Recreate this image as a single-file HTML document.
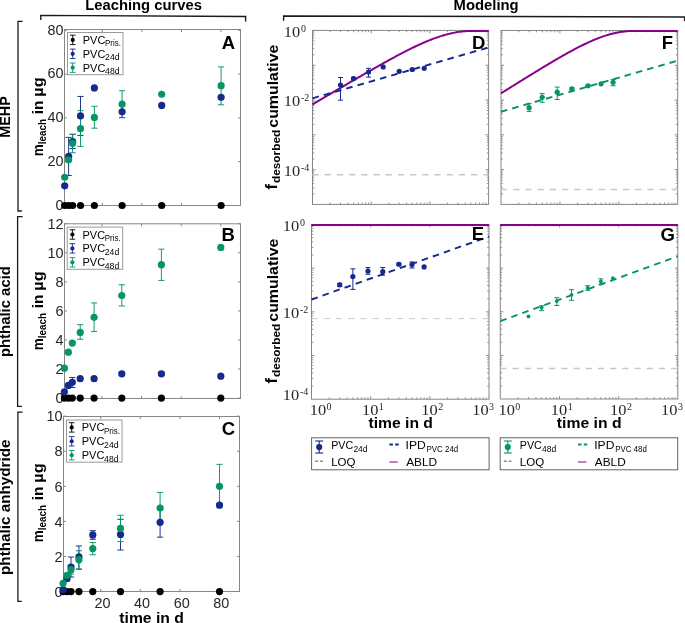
<!DOCTYPE html>
<html><head><meta charset="utf-8"><style>
html,body{margin:0;padding:0;background:#fff;}
svg{display:block;font-family:"Liberation Sans", sans-serif;will-change:transform;opacity:0.999;}
</style></head><body>
<svg width="685" height="623" viewBox="0 0 685 623">
<rect width="685" height="623" fill="#fff"/>
<text x="85.2" y="9.8" font-size="14" fill="#000" font-weight="bold" textLength="116.8" lengthAdjust="spacingAndGlyphs">Leaching curves</text>
<text x="453.6" y="9.9" font-size="14" fill="#000" font-weight="bold" textLength="65" lengthAdjust="spacingAndGlyphs">Modeling</text>
<path d="M40.8,20 V15.4 L245.6,16.5 V21.6" fill="none" stroke="#1a1a1a" stroke-width="1.4"/>
<path d="M283.6,20.8 V16 L684.6,17 V21" fill="none" stroke="#1a1a1a" stroke-width="1.4"/>
<path d="M22.6,21.4 H18 V211 H21.8" fill="none" stroke="#1a1a1a" stroke-width="1.3"/>
<path d="M22.6,216.6 H17.6 V406.4 H21.9" fill="none" stroke="#1a1a1a" stroke-width="1.3"/>
<path d="M22.6,412.2 H17.9 V601.3 H21.8" fill="none" stroke="#1a1a1a" stroke-width="1.3"/>
<text transform="translate(9.8,117) rotate(-90)" x="0" y="0" font-size="13.8" fill="#000" text-anchor="middle" font-weight="bold" textLength="41.5" lengthAdjust="spacingAndGlyphs">MEHP</text>
<text transform="translate(10,311.6) rotate(-90)" x="0" y="0" font-size="13.8" fill="#000" text-anchor="middle" font-weight="bold" textLength="91" lengthAdjust="spacingAndGlyphs">phthalic acid</text>
<text transform="translate(10,507.2) rotate(-90)" x="0" y="0" font-size="13.8" fill="#000" text-anchor="middle" font-weight="bold" textLength="135.5" lengthAdjust="spacingAndGlyphs">phthalic anhydride</text>
<line x1="64.5" y1="205.5" x2="67" y2="205.5" stroke="#858585" stroke-width="1"/>
<line x1="240.5" y1="205.5" x2="238" y2="205.5" stroke="#858585" stroke-width="1"/>
<text x="63.5" y="209.7" font-size="14.4" fill="#262626" text-anchor="end">0</text>
<line x1="64.5" y1="161.7" x2="67" y2="161.7" stroke="#858585" stroke-width="1"/>
<line x1="240.5" y1="161.7" x2="238" y2="161.7" stroke="#858585" stroke-width="1"/>
<text x="63.5" y="165.9" font-size="14.4" fill="#262626" text-anchor="end">20</text>
<line x1="64.5" y1="117.9" x2="67" y2="117.9" stroke="#858585" stroke-width="1"/>
<line x1="240.5" y1="117.9" x2="238" y2="117.9" stroke="#858585" stroke-width="1"/>
<text x="63.5" y="122.1" font-size="14.4" fill="#262626" text-anchor="end">40</text>
<line x1="64.5" y1="74.1" x2="67" y2="74.1" stroke="#858585" stroke-width="1"/>
<line x1="240.5" y1="74.1" x2="238" y2="74.1" stroke="#858585" stroke-width="1"/>
<text x="63.5" y="78.3" font-size="14.4" fill="#262626" text-anchor="end">60</text>
<line x1="64.5" y1="30.3" x2="67" y2="30.3" stroke="#858585" stroke-width="1"/>
<line x1="240.5" y1="30.3" x2="238" y2="30.3" stroke="#858585" stroke-width="1"/>
<text x="63.5" y="34.5" font-size="14.4" fill="#262626" text-anchor="end">80</text>
<line x1="102.3" y1="205.5" x2="102.3" y2="203" stroke="#858585" stroke-width="1"/>
<line x1="102.3" y1="29.5" x2="102.3" y2="32" stroke="#858585" stroke-width="1"/>
<line x1="141.9" y1="205.5" x2="141.9" y2="203" stroke="#858585" stroke-width="1"/>
<line x1="141.9" y1="29.5" x2="141.9" y2="32" stroke="#858585" stroke-width="1"/>
<line x1="181.5" y1="205.5" x2="181.5" y2="203" stroke="#858585" stroke-width="1"/>
<line x1="181.5" y1="29.5" x2="181.5" y2="32" stroke="#858585" stroke-width="1"/>
<line x1="221.1" y1="205.5" x2="221.1" y2="203" stroke="#858585" stroke-width="1"/>
<line x1="221.1" y1="29.5" x2="221.1" y2="32" stroke="#858585" stroke-width="1"/>
<rect x="64.5" y="29.5" width="176" height="176" fill="none" stroke="#858585" stroke-width="1"/>
<circle cx="64.68" cy="205.5" r="3.6" fill="#000000"/>
<circle cx="68.64" cy="205.5" r="3.6" fill="#000000"/>
<circle cx="72.6" cy="205.5" r="3.6" fill="#000000"/>
<circle cx="80.52" cy="205.5" r="3.6" fill="#000000"/>
<circle cx="94.38" cy="205.5" r="3.6" fill="#000000"/>
<circle cx="122.1" cy="205.5" r="3.6" fill="#000000"/>
<circle cx="161.7" cy="205.5" r="3.6" fill="#000000"/>
<circle cx="221.1" cy="205.5" r="3.6" fill="#000000"/>
<line x1="68.64" y1="137.39" x2="68.64" y2="175.5" stroke="#16298c" stroke-width="0.95"/>
<line x1="65.54" y1="137.39" x2="71.74" y2="137.39" stroke="#16298c" stroke-width="0.95"/>
<line x1="65.54" y1="175.5" x2="71.74" y2="175.5" stroke="#16298c" stroke-width="0.95"/>
<line x1="72.6" y1="134.32" x2="72.6" y2="148.56" stroke="#16298c" stroke-width="0.95"/>
<line x1="69.5" y1="134.32" x2="75.7" y2="134.32" stroke="#16298c" stroke-width="0.95"/>
<line x1="69.5" y1="148.56" x2="75.7" y2="148.56" stroke="#16298c" stroke-width="0.95"/>
<line x1="80.52" y1="96.44" x2="80.52" y2="135.42" stroke="#16298c" stroke-width="0.95"/>
<line x1="77.42" y1="96.44" x2="83.62" y2="96.44" stroke="#16298c" stroke-width="0.95"/>
<line x1="77.42" y1="135.42" x2="83.62" y2="135.42" stroke="#16298c" stroke-width="0.95"/>
<line x1="122.1" y1="105.86" x2="122.1" y2="117.68" stroke="#16298c" stroke-width="0.95"/>
<line x1="119" y1="105.86" x2="125.2" y2="105.86" stroke="#16298c" stroke-width="0.95"/>
<line x1="119" y1="117.68" x2="125.2" y2="117.68" stroke="#16298c" stroke-width="0.95"/>
<line x1="72.6" y1="134.32" x2="72.6" y2="152.72" stroke="#069664" stroke-width="0.95"/>
<line x1="69.5" y1="134.32" x2="75.7" y2="134.32" stroke="#069664" stroke-width="0.95"/>
<line x1="69.5" y1="152.72" x2="75.7" y2="152.72" stroke="#069664" stroke-width="0.95"/>
<line x1="80.52" y1="110.67" x2="80.52" y2="146.37" stroke="#069664" stroke-width="0.95"/>
<line x1="77.42" y1="110.67" x2="83.62" y2="110.67" stroke="#069664" stroke-width="0.95"/>
<line x1="77.42" y1="146.37" x2="83.62" y2="146.37" stroke="#069664" stroke-width="0.95"/>
<line x1="94.38" y1="106.29" x2="94.38" y2="128.19" stroke="#069664" stroke-width="0.95"/>
<line x1="91.28" y1="106.29" x2="97.48" y2="106.29" stroke="#069664" stroke-width="0.95"/>
<line x1="91.28" y1="128.19" x2="97.48" y2="128.19" stroke="#069664" stroke-width="0.95"/>
<line x1="122.1" y1="90.74" x2="122.1" y2="117.46" stroke="#069664" stroke-width="0.95"/>
<line x1="119" y1="90.74" x2="125.2" y2="90.74" stroke="#069664" stroke-width="0.95"/>
<line x1="119" y1="117.46" x2="125.2" y2="117.46" stroke="#069664" stroke-width="0.95"/>
<line x1="221.1" y1="66.87" x2="221.1" y2="104.76" stroke="#069664" stroke-width="0.95"/>
<line x1="218" y1="66.87" x2="224.2" y2="66.87" stroke="#069664" stroke-width="0.95"/>
<line x1="218" y1="104.76" x2="224.2" y2="104.76" stroke="#069664" stroke-width="0.95"/>
<circle cx="64.68" cy="185.79" r="3.6" fill="#16298c"/>
<circle cx="68.64" cy="156.44" r="3.6" fill="#16298c"/>
<circle cx="72.6" cy="141.55" r="3.6" fill="#16298c"/>
<circle cx="80.52" cy="115.93" r="3.6" fill="#16298c"/>
<circle cx="94.38" cy="87.9" r="3.6" fill="#16298c"/>
<circle cx="122.1" cy="111.77" r="3.6" fill="#16298c"/>
<circle cx="161.7" cy="105.42" r="3.6" fill="#16298c"/>
<circle cx="221.1" cy="97.31" r="3.6" fill="#16298c"/>
<circle cx="64.68" cy="177.25" r="3.6" fill="#069664"/>
<circle cx="68.64" cy="159.73" r="3.6" fill="#069664"/>
<circle cx="72.6" cy="143.3" r="3.6" fill="#069664"/>
<circle cx="80.52" cy="128.63" r="3.6" fill="#069664"/>
<circle cx="94.38" cy="117.46" r="3.6" fill="#069664"/>
<circle cx="122.1" cy="104.1" r="3.6" fill="#069664"/>
<circle cx="161.7" cy="94.25" r="3.6" fill="#069664"/>
<circle cx="221.1" cy="85.71" r="3.6" fill="#069664"/>
<rect x="67.5" y="32.5" width="55.5" height="42.2" fill="#fff" stroke="#9a9a9a" stroke-width="1"/>
<line x1="72.7" y1="35.2" x2="72.7" y2="44.6" stroke="#000000" stroke-width="0.9"/>
<line x1="69.9" y1="35.2" x2="75.5" y2="35.2" stroke="#000000" stroke-width="0.9"/>
<line x1="69.9" y1="44.6" x2="75.5" y2="44.6" stroke="#000000" stroke-width="0.9"/>
<circle cx="72.7" cy="39.9" r="2.1" fill="#000000"/>
<text x="82.8" y="43.9" font-size="11.5" fill="#000" textLength="22.6" lengthAdjust="spacingAndGlyphs">PVC</text>
<text x="105.1" y="46.2" font-size="8.6" fill="#000" textLength="15.8" lengthAdjust="spacingAndGlyphs">Pris.</text>
<line x1="72.7" y1="49.1" x2="72.7" y2="58.5" stroke="#16298c" stroke-width="0.9"/>
<line x1="69.9" y1="49.1" x2="75.5" y2="49.1" stroke="#16298c" stroke-width="0.9"/>
<line x1="69.9" y1="58.5" x2="75.5" y2="58.5" stroke="#16298c" stroke-width="0.9"/>
<circle cx="72.7" cy="53.8" r="2.1" fill="#16298c"/>
<text x="82.8" y="57.8" font-size="11.5" fill="#000" textLength="22.6" lengthAdjust="spacingAndGlyphs">PVC</text>
<text x="105.1" y="60.1" font-size="8.6" fill="#000" textLength="14.4" lengthAdjust="spacingAndGlyphs">24d</text>
<line x1="72.7" y1="63" x2="72.7" y2="72.4" stroke="#069664" stroke-width="0.9"/>
<line x1="69.9" y1="63" x2="75.5" y2="63" stroke="#069664" stroke-width="0.9"/>
<line x1="69.9" y1="72.4" x2="75.5" y2="72.4" stroke="#069664" stroke-width="0.9"/>
<circle cx="72.7" cy="67.7" r="2.1" fill="#069664"/>
<text x="82.8" y="71.7" font-size="11.5" fill="#000" textLength="22.6" lengthAdjust="spacingAndGlyphs">PVC</text>
<text x="105.1" y="74" font-size="8.6" fill="#000" textLength="14.4" lengthAdjust="spacingAndGlyphs">48d</text>
<text x="221.7" y="49" font-size="18.5" fill="#000" font-weight="bold">A</text>
<line x1="64.5" y1="398.1" x2="67" y2="398.1" stroke="#858585" stroke-width="1"/>
<line x1="240.5" y1="398.1" x2="238" y2="398.1" stroke="#858585" stroke-width="1"/>
<text x="63.5" y="403.3" font-size="14.4" fill="#262626" text-anchor="end">0</text>
<line x1="64.5" y1="369.04" x2="67" y2="369.04" stroke="#858585" stroke-width="1"/>
<line x1="240.5" y1="369.04" x2="238" y2="369.04" stroke="#858585" stroke-width="1"/>
<text x="63.5" y="374.24" font-size="14.4" fill="#262626" text-anchor="end">2</text>
<line x1="64.5" y1="339.98" x2="67" y2="339.98" stroke="#858585" stroke-width="1"/>
<line x1="240.5" y1="339.98" x2="238" y2="339.98" stroke="#858585" stroke-width="1"/>
<text x="63.5" y="345.18" font-size="14.4" fill="#262626" text-anchor="end">4</text>
<line x1="64.5" y1="310.92" x2="67" y2="310.92" stroke="#858585" stroke-width="1"/>
<line x1="240.5" y1="310.92" x2="238" y2="310.92" stroke="#858585" stroke-width="1"/>
<text x="63.5" y="316.12" font-size="14.4" fill="#262626" text-anchor="end">6</text>
<line x1="64.5" y1="281.86" x2="67" y2="281.86" stroke="#858585" stroke-width="1"/>
<line x1="240.5" y1="281.86" x2="238" y2="281.86" stroke="#858585" stroke-width="1"/>
<text x="63.5" y="287.06" font-size="14.4" fill="#262626" text-anchor="end">8</text>
<line x1="64.5" y1="252.8" x2="67" y2="252.8" stroke="#858585" stroke-width="1"/>
<line x1="240.5" y1="252.8" x2="238" y2="252.8" stroke="#858585" stroke-width="1"/>
<text x="63.5" y="258" font-size="14.4" fill="#262626" text-anchor="end">10</text>
<line x1="64.5" y1="223.74" x2="67" y2="223.74" stroke="#858585" stroke-width="1"/>
<line x1="240.5" y1="223.74" x2="238" y2="223.74" stroke="#858585" stroke-width="1"/>
<text x="63.5" y="228.94" font-size="14.4" fill="#262626" text-anchor="end">12</text>
<line x1="102" y1="398.5" x2="102" y2="396" stroke="#858585" stroke-width="1"/>
<line x1="102" y1="223.8" x2="102" y2="226.3" stroke="#858585" stroke-width="1"/>
<line x1="141.6" y1="398.5" x2="141.6" y2="396" stroke="#858585" stroke-width="1"/>
<line x1="141.6" y1="223.8" x2="141.6" y2="226.3" stroke="#858585" stroke-width="1"/>
<line x1="181.2" y1="398.5" x2="181.2" y2="396" stroke="#858585" stroke-width="1"/>
<line x1="181.2" y1="223.8" x2="181.2" y2="226.3" stroke="#858585" stroke-width="1"/>
<line x1="220.8" y1="398.5" x2="220.8" y2="396" stroke="#858585" stroke-width="1"/>
<line x1="220.8" y1="223.8" x2="220.8" y2="226.3" stroke="#858585" stroke-width="1"/>
<rect x="64.5" y="223.8" width="176" height="174.7" fill="none" stroke="#858585" stroke-width="1"/>
<circle cx="64.38" cy="398.1" r="3.6" fill="#000000"/>
<circle cx="68.34" cy="398.1" r="3.6" fill="#000000"/>
<circle cx="72.3" cy="398.1" r="3.6" fill="#000000"/>
<circle cx="80.22" cy="398.1" r="3.6" fill="#000000"/>
<circle cx="94.08" cy="398.1" r="3.6" fill="#000000"/>
<circle cx="121.8" cy="398.1" r="3.6" fill="#000000"/>
<circle cx="161.4" cy="398.1" r="3.6" fill="#000000"/>
<circle cx="220.8" cy="398.1" r="3.6" fill="#000000"/>
<line x1="72.3" y1="377.47" x2="72.3" y2="387.49" stroke="#16298c" stroke-width="0.95"/>
<line x1="69.2" y1="377.47" x2="75.4" y2="377.47" stroke="#16298c" stroke-width="0.95"/>
<line x1="69.2" y1="387.49" x2="75.4" y2="387.49" stroke="#16298c" stroke-width="0.95"/>
<line x1="121.8" y1="371.95" x2="121.8" y2="375.58" stroke="#16298c" stroke-width="0.95"/>
<line x1="118.7" y1="371.95" x2="124.9" y2="371.95" stroke="#16298c" stroke-width="0.95"/>
<line x1="118.7" y1="375.58" x2="124.9" y2="375.58" stroke="#16298c" stroke-width="0.95"/>
<line x1="161.4" y1="371.95" x2="161.4" y2="375.58" stroke="#16298c" stroke-width="0.95"/>
<line x1="158.3" y1="371.95" x2="164.5" y2="371.95" stroke="#16298c" stroke-width="0.95"/>
<line x1="158.3" y1="375.58" x2="164.5" y2="375.58" stroke="#16298c" stroke-width="0.95"/>
<line x1="80.22" y1="324.72" x2="80.22" y2="339.25" stroke="#069664" stroke-width="0.95"/>
<line x1="77.12" y1="324.72" x2="83.32" y2="324.72" stroke="#069664" stroke-width="0.95"/>
<line x1="77.12" y1="339.25" x2="83.32" y2="339.25" stroke="#069664" stroke-width="0.95"/>
<line x1="94.08" y1="302.93" x2="94.08" y2="331.55" stroke="#069664" stroke-width="0.95"/>
<line x1="90.98" y1="302.93" x2="97.18" y2="302.93" stroke="#069664" stroke-width="0.95"/>
<line x1="90.98" y1="331.55" x2="97.18" y2="331.55" stroke="#069664" stroke-width="0.95"/>
<line x1="121.8" y1="284.77" x2="121.8" y2="305.98" stroke="#069664" stroke-width="0.95"/>
<line x1="118.7" y1="284.77" x2="124.9" y2="284.77" stroke="#069664" stroke-width="0.95"/>
<line x1="118.7" y1="305.98" x2="124.9" y2="305.98" stroke="#069664" stroke-width="0.95"/>
<line x1="161.4" y1="249.17" x2="161.4" y2="280.41" stroke="#069664" stroke-width="0.95"/>
<line x1="158.3" y1="249.17" x2="164.5" y2="249.17" stroke="#069664" stroke-width="0.95"/>
<line x1="158.3" y1="280.41" x2="164.5" y2="280.41" stroke="#069664" stroke-width="0.95"/>
<circle cx="64.38" cy="391.85" r="3.6" fill="#16298c"/>
<circle cx="68.34" cy="385.46" r="3.6" fill="#16298c"/>
<circle cx="72.3" cy="382.26" r="3.6" fill="#16298c"/>
<circle cx="80.22" cy="378.63" r="3.6" fill="#16298c"/>
<circle cx="94.08" cy="378.63" r="3.6" fill="#16298c"/>
<circle cx="121.8" cy="373.83" r="3.6" fill="#16298c"/>
<circle cx="161.4" cy="373.83" r="3.6" fill="#16298c"/>
<circle cx="220.8" cy="376.16" r="3.6" fill="#16298c"/>
<circle cx="64.38" cy="368.17" r="3.6" fill="#069664"/>
<circle cx="68.34" cy="352.19" r="3.6" fill="#069664"/>
<circle cx="72.3" cy="343.03" r="3.6" fill="#069664"/>
<circle cx="80.22" cy="332.42" r="3.6" fill="#069664"/>
<circle cx="94.08" cy="317.31" r="3.6" fill="#069664"/>
<circle cx="121.8" cy="295.52" r="3.6" fill="#069664"/>
<circle cx="161.4" cy="264.71" r="3.6" fill="#069664"/>
<circle cx="220.8" cy="247.42" r="3.6" fill="#069664"/>
<rect x="67.2" y="227.1" width="55.5" height="42.2" fill="#fff" stroke="#9a9a9a" stroke-width="1"/>
<line x1="72.4" y1="229.8" x2="72.4" y2="239.2" stroke="#000000" stroke-width="0.9"/>
<line x1="69.6" y1="229.8" x2="75.2" y2="229.8" stroke="#000000" stroke-width="0.9"/>
<line x1="69.6" y1="239.2" x2="75.2" y2="239.2" stroke="#000000" stroke-width="0.9"/>
<circle cx="72.4" cy="234.5" r="2.1" fill="#000000"/>
<text x="82.5" y="238.5" font-size="11.5" fill="#000" textLength="22.6" lengthAdjust="spacingAndGlyphs">PVC</text>
<text x="104.8" y="240.8" font-size="8.6" fill="#000" textLength="15.8" lengthAdjust="spacingAndGlyphs">Pris.</text>
<line x1="72.4" y1="243.7" x2="72.4" y2="253.1" stroke="#16298c" stroke-width="0.9"/>
<line x1="69.6" y1="243.7" x2="75.2" y2="243.7" stroke="#16298c" stroke-width="0.9"/>
<line x1="69.6" y1="253.1" x2="75.2" y2="253.1" stroke="#16298c" stroke-width="0.9"/>
<circle cx="72.4" cy="248.4" r="2.1" fill="#16298c"/>
<text x="82.5" y="252.4" font-size="11.5" fill="#000" textLength="22.6" lengthAdjust="spacingAndGlyphs">PVC</text>
<text x="104.8" y="254.7" font-size="8.6" fill="#000" textLength="14.4" lengthAdjust="spacingAndGlyphs">24d</text>
<line x1="72.4" y1="257.6" x2="72.4" y2="267" stroke="#069664" stroke-width="0.9"/>
<line x1="69.6" y1="257.6" x2="75.2" y2="257.6" stroke="#069664" stroke-width="0.9"/>
<line x1="69.6" y1="267" x2="75.2" y2="267" stroke="#069664" stroke-width="0.9"/>
<circle cx="72.4" cy="262.3" r="2.1" fill="#069664"/>
<text x="82.5" y="266.3" font-size="11.5" fill="#000" textLength="22.6" lengthAdjust="spacingAndGlyphs">PVC</text>
<text x="104.8" y="268.6" font-size="8.6" fill="#000" textLength="14.4" lengthAdjust="spacingAndGlyphs">48d</text>
<text x="221.5" y="240.8" font-size="18.5" fill="#000" font-weight="bold">B</text>
<line x1="63.5" y1="591.6" x2="66" y2="591.6" stroke="#858585" stroke-width="1"/>
<line x1="239.5" y1="591.6" x2="237" y2="591.6" stroke="#858585" stroke-width="1"/>
<text x="62.5" y="596.8" font-size="14.4" fill="#262626" text-anchor="end">0</text>
<line x1="63.5" y1="556.5" x2="66" y2="556.5" stroke="#858585" stroke-width="1"/>
<line x1="239.5" y1="556.5" x2="237" y2="556.5" stroke="#858585" stroke-width="1"/>
<text x="62.5" y="561.7" font-size="14.4" fill="#262626" text-anchor="end">2</text>
<line x1="63.5" y1="521.4" x2="66" y2="521.4" stroke="#858585" stroke-width="1"/>
<line x1="239.5" y1="521.4" x2="237" y2="521.4" stroke="#858585" stroke-width="1"/>
<text x="62.5" y="526.6" font-size="14.4" fill="#262626" text-anchor="end">4</text>
<line x1="63.5" y1="486.3" x2="66" y2="486.3" stroke="#858585" stroke-width="1"/>
<line x1="239.5" y1="486.3" x2="237" y2="486.3" stroke="#858585" stroke-width="1"/>
<text x="62.5" y="491.5" font-size="14.4" fill="#262626" text-anchor="end">6</text>
<line x1="63.5" y1="451.2" x2="66" y2="451.2" stroke="#858585" stroke-width="1"/>
<line x1="239.5" y1="451.2" x2="237" y2="451.2" stroke="#858585" stroke-width="1"/>
<text x="62.5" y="456.4" font-size="14.4" fill="#262626" text-anchor="end">8</text>
<line x1="63.5" y1="416.1" x2="66" y2="416.1" stroke="#858585" stroke-width="1"/>
<line x1="239.5" y1="416.1" x2="237" y2="416.1" stroke="#858585" stroke-width="1"/>
<text x="62.5" y="421.3" font-size="14.4" fill="#262626" text-anchor="end">10</text>
<line x1="100.7" y1="591.5" x2="100.7" y2="589" stroke="#858585" stroke-width="1"/>
<line x1="100.7" y1="416.5" x2="100.7" y2="419" stroke="#858585" stroke-width="1"/>
<text x="102.5" y="607.9" font-size="14.4" fill="#262626" text-anchor="middle">20</text>
<line x1="140.3" y1="591.5" x2="140.3" y2="589" stroke="#858585" stroke-width="1"/>
<line x1="140.3" y1="416.5" x2="140.3" y2="419" stroke="#858585" stroke-width="1"/>
<text x="142.1" y="607.9" font-size="14.4" fill="#262626" text-anchor="middle">40</text>
<line x1="179.9" y1="591.5" x2="179.9" y2="589" stroke="#858585" stroke-width="1"/>
<line x1="179.9" y1="416.5" x2="179.9" y2="419" stroke="#858585" stroke-width="1"/>
<text x="181.7" y="607.9" font-size="14.4" fill="#262626" text-anchor="middle">60</text>
<line x1="219.5" y1="591.5" x2="219.5" y2="589" stroke="#858585" stroke-width="1"/>
<line x1="219.5" y1="416.5" x2="219.5" y2="419" stroke="#858585" stroke-width="1"/>
<text x="221.3" y="607.9" font-size="14.4" fill="#262626" text-anchor="middle">80</text>
<rect x="63.5" y="416.5" width="176" height="175" fill="none" stroke="#858585" stroke-width="1"/>
<circle cx="63.08" cy="591.6" r="3.6" fill="#000000"/>
<circle cx="67.04" cy="591.6" r="3.6" fill="#000000"/>
<circle cx="71" cy="591.6" r="3.6" fill="#000000"/>
<circle cx="78.92" cy="591.6" r="3.6" fill="#000000"/>
<circle cx="92.78" cy="591.6" r="3.6" fill="#000000"/>
<circle cx="120.5" cy="591.6" r="3.6" fill="#000000"/>
<circle cx="160.1" cy="591.6" r="3.6" fill="#000000"/>
<circle cx="219.5" cy="591.6" r="3.6" fill="#000000"/>
<line x1="67.04" y1="575.81" x2="67.04" y2="581.07" stroke="#16298c" stroke-width="0.95"/>
<line x1="63.94" y1="575.81" x2="70.14" y2="575.81" stroke="#16298c" stroke-width="0.95"/>
<line x1="63.94" y1="581.07" x2="70.14" y2="581.07" stroke="#16298c" stroke-width="0.95"/>
<line x1="71" y1="557.03" x2="71" y2="577.03" stroke="#16298c" stroke-width="0.95"/>
<line x1="67.9" y1="557.03" x2="74.1" y2="557.03" stroke="#16298c" stroke-width="0.95"/>
<line x1="67.9" y1="577.03" x2="74.1" y2="577.03" stroke="#16298c" stroke-width="0.95"/>
<line x1="78.92" y1="545.97" x2="78.92" y2="569.14" stroke="#16298c" stroke-width="0.95"/>
<line x1="75.82" y1="545.97" x2="82.02" y2="545.97" stroke="#16298c" stroke-width="0.95"/>
<line x1="75.82" y1="569.14" x2="82.02" y2="569.14" stroke="#16298c" stroke-width="0.95"/>
<line x1="92.78" y1="530.7" x2="92.78" y2="539.3" stroke="#16298c" stroke-width="0.95"/>
<line x1="89.68" y1="530.7" x2="95.88" y2="530.7" stroke="#16298c" stroke-width="0.95"/>
<line x1="89.68" y1="539.3" x2="95.88" y2="539.3" stroke="#16298c" stroke-width="0.95"/>
<line x1="120.5" y1="519.29" x2="120.5" y2="550.01" stroke="#16298c" stroke-width="0.95"/>
<line x1="117.4" y1="519.29" x2="123.6" y2="519.29" stroke="#16298c" stroke-width="0.95"/>
<line x1="117.4" y1="550.01" x2="123.6" y2="550.01" stroke="#16298c" stroke-width="0.95"/>
<line x1="160.1" y1="507.36" x2="160.1" y2="537.2" stroke="#16298c" stroke-width="0.95"/>
<line x1="157" y1="507.36" x2="163.2" y2="507.36" stroke="#16298c" stroke-width="0.95"/>
<line x1="157" y1="537.2" x2="163.2" y2="537.2" stroke="#16298c" stroke-width="0.95"/>
<line x1="219.5" y1="503.85" x2="219.5" y2="506.48" stroke="#16298c" stroke-width="0.95"/>
<line x1="216.4" y1="503.85" x2="222.6" y2="503.85" stroke="#16298c" stroke-width="0.95"/>
<line x1="216.4" y1="506.48" x2="222.6" y2="506.48" stroke="#16298c" stroke-width="0.95"/>
<line x1="71" y1="565.27" x2="71" y2="574.05" stroke="#069664" stroke-width="0.95"/>
<line x1="67.9" y1="565.27" x2="74.1" y2="565.27" stroke="#069664" stroke-width="0.95"/>
<line x1="67.9" y1="574.05" x2="74.1" y2="574.05" stroke="#069664" stroke-width="0.95"/>
<line x1="78.92" y1="550.71" x2="78.92" y2="569.14" stroke="#069664" stroke-width="0.95"/>
<line x1="75.82" y1="550.71" x2="82.02" y2="550.71" stroke="#069664" stroke-width="0.95"/>
<line x1="75.82" y1="569.14" x2="82.02" y2="569.14" stroke="#069664" stroke-width="0.95"/>
<line x1="92.78" y1="542.46" x2="92.78" y2="554.75" stroke="#069664" stroke-width="0.95"/>
<line x1="89.68" y1="542.46" x2="95.88" y2="542.46" stroke="#069664" stroke-width="0.95"/>
<line x1="89.68" y1="554.75" x2="95.88" y2="554.75" stroke="#069664" stroke-width="0.95"/>
<line x1="120.5" y1="515.26" x2="120.5" y2="541.58" stroke="#069664" stroke-width="0.95"/>
<line x1="117.4" y1="515.26" x2="123.6" y2="515.26" stroke="#069664" stroke-width="0.95"/>
<line x1="117.4" y1="541.58" x2="123.6" y2="541.58" stroke="#069664" stroke-width="0.95"/>
<line x1="160.1" y1="492.44" x2="160.1" y2="523.15" stroke="#069664" stroke-width="0.95"/>
<line x1="157" y1="492.44" x2="163.2" y2="492.44" stroke="#069664" stroke-width="0.95"/>
<line x1="157" y1="523.15" x2="163.2" y2="523.15" stroke="#069664" stroke-width="0.95"/>
<line x1="219.5" y1="464.36" x2="219.5" y2="507.89" stroke="#069664" stroke-width="0.95"/>
<line x1="216.4" y1="464.36" x2="222.6" y2="464.36" stroke="#069664" stroke-width="0.95"/>
<line x1="216.4" y1="507.89" x2="222.6" y2="507.89" stroke="#069664" stroke-width="0.95"/>
<circle cx="63.08" cy="589.49" r="3.6" fill="#16298c"/>
<circle cx="67.04" cy="578.61" r="3.6" fill="#16298c"/>
<circle cx="71" cy="567.03" r="3.6" fill="#16298c"/>
<circle cx="78.92" cy="556.85" r="3.6" fill="#16298c"/>
<circle cx="92.78" cy="534.91" r="3.6" fill="#16298c"/>
<circle cx="120.5" cy="534.39" r="3.6" fill="#16298c"/>
<circle cx="160.1" cy="522.28" r="3.6" fill="#16298c"/>
<circle cx="219.5" cy="505.08" r="3.6" fill="#16298c"/>
<circle cx="63.08" cy="583.35" r="3.6" fill="#069664"/>
<circle cx="67.04" cy="575.28" r="3.6" fill="#069664"/>
<circle cx="71" cy="569.66" r="3.6" fill="#069664"/>
<circle cx="78.92" cy="559.66" r="3.6" fill="#069664"/>
<circle cx="92.78" cy="548.6" r="3.6" fill="#069664"/>
<circle cx="120.5" cy="528.42" r="3.6" fill="#069664"/>
<circle cx="160.1" cy="508.06" r="3.6" fill="#069664"/>
<circle cx="219.5" cy="486.3" r="3.6" fill="#069664"/>
<rect x="66.5" y="420" width="55.5" height="42.2" fill="#fff" stroke="#9a9a9a" stroke-width="1"/>
<line x1="71.7" y1="422.7" x2="71.7" y2="432.1" stroke="#000000" stroke-width="0.9"/>
<line x1="68.9" y1="422.7" x2="74.5" y2="422.7" stroke="#000000" stroke-width="0.9"/>
<line x1="68.9" y1="432.1" x2="74.5" y2="432.1" stroke="#000000" stroke-width="0.9"/>
<circle cx="71.7" cy="427.4" r="2.1" fill="#000000"/>
<text x="81.8" y="431.4" font-size="11.5" fill="#000" textLength="22.6" lengthAdjust="spacingAndGlyphs">PVC</text>
<text x="104.1" y="433.7" font-size="8.6" fill="#000" textLength="15.8" lengthAdjust="spacingAndGlyphs">Pris.</text>
<line x1="71.7" y1="436.6" x2="71.7" y2="446" stroke="#16298c" stroke-width="0.9"/>
<line x1="68.9" y1="436.6" x2="74.5" y2="436.6" stroke="#16298c" stroke-width="0.9"/>
<line x1="68.9" y1="446" x2="74.5" y2="446" stroke="#16298c" stroke-width="0.9"/>
<circle cx="71.7" cy="441.3" r="2.1" fill="#16298c"/>
<text x="81.8" y="445.3" font-size="11.5" fill="#000" textLength="22.6" lengthAdjust="spacingAndGlyphs">PVC</text>
<text x="104.1" y="447.6" font-size="8.6" fill="#000" textLength="14.4" lengthAdjust="spacingAndGlyphs">24d</text>
<line x1="71.7" y1="450.5" x2="71.7" y2="459.9" stroke="#069664" stroke-width="0.9"/>
<line x1="68.9" y1="450.5" x2="74.5" y2="450.5" stroke="#069664" stroke-width="0.9"/>
<line x1="68.9" y1="459.9" x2="74.5" y2="459.9" stroke="#069664" stroke-width="0.9"/>
<circle cx="71.7" cy="455.2" r="2.1" fill="#069664"/>
<text x="81.8" y="459.2" font-size="11.5" fill="#000" textLength="22.6" lengthAdjust="spacingAndGlyphs">PVC</text>
<text x="104.1" y="461.5" font-size="8.6" fill="#000" textLength="14.4" lengthAdjust="spacingAndGlyphs">48d</text>
<text x="221.8" y="434.6" font-size="18.5" fill="#000" font-weight="bold">C</text>
<g transform="translate(43.3,117) rotate(-90)">
<text x="-39.2" y="0" font-size="15.5" font-weight="bold" fill="#000" textLength="12" lengthAdjust="spacingAndGlyphs">m</text>
<text x="-27.2" y="2.4" font-size="10" font-weight="bold" fill="#000" textLength="25.2" lengthAdjust="spacingAndGlyphs">leach</text>
<text x="2.8" y="0" font-size="15.5" font-weight="bold" fill="#000" textLength="13.6" lengthAdjust="spacingAndGlyphs">in</text>
<text x="20.3" y="0" font-size="15.5" font-weight="bold" fill="#000" textLength="19.4" lengthAdjust="spacingAndGlyphs">µg</text>
</g>
<g transform="translate(43.3,311) rotate(-90)">
<text x="-39.2" y="0" font-size="15.5" font-weight="bold" fill="#000" textLength="12" lengthAdjust="spacingAndGlyphs">m</text>
<text x="-27.2" y="2.4" font-size="10" font-weight="bold" fill="#000" textLength="25.2" lengthAdjust="spacingAndGlyphs">leach</text>
<text x="2.8" y="0" font-size="15.5" font-weight="bold" fill="#000" textLength="13.6" lengthAdjust="spacingAndGlyphs">in</text>
<text x="20.3" y="0" font-size="15.5" font-weight="bold" fill="#000" textLength="19.4" lengthAdjust="spacingAndGlyphs">µg</text>
</g>
<g transform="translate(43.3,503) rotate(-90)">
<text x="-39.2" y="0" font-size="15.5" font-weight="bold" fill="#000" textLength="12" lengthAdjust="spacingAndGlyphs">m</text>
<text x="-27.2" y="2.4" font-size="10" font-weight="bold" fill="#000" textLength="25.2" lengthAdjust="spacingAndGlyphs">leach</text>
<text x="2.8" y="0" font-size="15.5" font-weight="bold" fill="#000" textLength="13.6" lengthAdjust="spacingAndGlyphs">in</text>
<text x="20.3" y="0" font-size="15.5" font-weight="bold" fill="#000" textLength="19.4" lengthAdjust="spacingAndGlyphs">µg</text>
</g>
<text x="119.3" y="622.8" font-size="14" fill="#000" font-weight="bold" textLength="64.6" lengthAdjust="spacingAndGlyphs">time in d</text>
<line x1="330.17" y1="204.4" x2="330.17" y2="202.6" stroke="#858585" stroke-width="0.9"/>
<line x1="330.17" y1="30.4" x2="330.17" y2="32.2" stroke="#858585" stroke-width="0.9"/>
<line x1="340.51" y1="204.4" x2="340.51" y2="202.6" stroke="#858585" stroke-width="0.9"/>
<line x1="340.51" y1="30.4" x2="340.51" y2="32.2" stroke="#858585" stroke-width="0.9"/>
<line x1="347.84" y1="204.4" x2="347.84" y2="202.6" stroke="#858585" stroke-width="0.9"/>
<line x1="347.84" y1="30.4" x2="347.84" y2="32.2" stroke="#858585" stroke-width="0.9"/>
<line x1="353.53" y1="204.4" x2="353.53" y2="202.6" stroke="#858585" stroke-width="0.9"/>
<line x1="353.53" y1="30.4" x2="353.53" y2="32.2" stroke="#858585" stroke-width="0.9"/>
<line x1="358.18" y1="204.4" x2="358.18" y2="202.6" stroke="#858585" stroke-width="0.9"/>
<line x1="358.18" y1="30.4" x2="358.18" y2="32.2" stroke="#858585" stroke-width="0.9"/>
<line x1="362.11" y1="204.4" x2="362.11" y2="202.6" stroke="#858585" stroke-width="0.9"/>
<line x1="362.11" y1="30.4" x2="362.11" y2="32.2" stroke="#858585" stroke-width="0.9"/>
<line x1="365.51" y1="204.4" x2="365.51" y2="202.6" stroke="#858585" stroke-width="0.9"/>
<line x1="365.51" y1="30.4" x2="365.51" y2="32.2" stroke="#858585" stroke-width="0.9"/>
<line x1="368.51" y1="204.4" x2="368.51" y2="202.6" stroke="#858585" stroke-width="0.9"/>
<line x1="368.51" y1="30.4" x2="368.51" y2="32.2" stroke="#858585" stroke-width="0.9"/>
<line x1="371.2" y1="204.4" x2="371.2" y2="201.4" stroke="#858585" stroke-width="0.9"/>
<line x1="371.2" y1="30.4" x2="371.2" y2="33.4" stroke="#858585" stroke-width="0.9"/>
<line x1="388.87" y1="204.4" x2="388.87" y2="202.6" stroke="#858585" stroke-width="0.9"/>
<line x1="388.87" y1="30.4" x2="388.87" y2="32.2" stroke="#858585" stroke-width="0.9"/>
<line x1="399.21" y1="204.4" x2="399.21" y2="202.6" stroke="#858585" stroke-width="0.9"/>
<line x1="399.21" y1="30.4" x2="399.21" y2="32.2" stroke="#858585" stroke-width="0.9"/>
<line x1="406.54" y1="204.4" x2="406.54" y2="202.6" stroke="#858585" stroke-width="0.9"/>
<line x1="406.54" y1="30.4" x2="406.54" y2="32.2" stroke="#858585" stroke-width="0.9"/>
<line x1="412.23" y1="204.4" x2="412.23" y2="202.6" stroke="#858585" stroke-width="0.9"/>
<line x1="412.23" y1="30.4" x2="412.23" y2="32.2" stroke="#858585" stroke-width="0.9"/>
<line x1="416.88" y1="204.4" x2="416.88" y2="202.6" stroke="#858585" stroke-width="0.9"/>
<line x1="416.88" y1="30.4" x2="416.88" y2="32.2" stroke="#858585" stroke-width="0.9"/>
<line x1="420.81" y1="204.4" x2="420.81" y2="202.6" stroke="#858585" stroke-width="0.9"/>
<line x1="420.81" y1="30.4" x2="420.81" y2="32.2" stroke="#858585" stroke-width="0.9"/>
<line x1="424.21" y1="204.4" x2="424.21" y2="202.6" stroke="#858585" stroke-width="0.9"/>
<line x1="424.21" y1="30.4" x2="424.21" y2="32.2" stroke="#858585" stroke-width="0.9"/>
<line x1="427.21" y1="204.4" x2="427.21" y2="202.6" stroke="#858585" stroke-width="0.9"/>
<line x1="427.21" y1="30.4" x2="427.21" y2="32.2" stroke="#858585" stroke-width="0.9"/>
<line x1="429.9" y1="204.4" x2="429.9" y2="201.4" stroke="#858585" stroke-width="0.9"/>
<line x1="429.9" y1="30.4" x2="429.9" y2="33.4" stroke="#858585" stroke-width="0.9"/>
<line x1="447.57" y1="204.4" x2="447.57" y2="202.6" stroke="#858585" stroke-width="0.9"/>
<line x1="447.57" y1="30.4" x2="447.57" y2="32.2" stroke="#858585" stroke-width="0.9"/>
<line x1="457.91" y1="204.4" x2="457.91" y2="202.6" stroke="#858585" stroke-width="0.9"/>
<line x1="457.91" y1="30.4" x2="457.91" y2="32.2" stroke="#858585" stroke-width="0.9"/>
<line x1="465.24" y1="204.4" x2="465.24" y2="202.6" stroke="#858585" stroke-width="0.9"/>
<line x1="465.24" y1="30.4" x2="465.24" y2="32.2" stroke="#858585" stroke-width="0.9"/>
<line x1="470.93" y1="204.4" x2="470.93" y2="202.6" stroke="#858585" stroke-width="0.9"/>
<line x1="470.93" y1="30.4" x2="470.93" y2="32.2" stroke="#858585" stroke-width="0.9"/>
<line x1="475.58" y1="204.4" x2="475.58" y2="202.6" stroke="#858585" stroke-width="0.9"/>
<line x1="475.58" y1="30.4" x2="475.58" y2="32.2" stroke="#858585" stroke-width="0.9"/>
<line x1="479.51" y1="204.4" x2="479.51" y2="202.6" stroke="#858585" stroke-width="0.9"/>
<line x1="479.51" y1="30.4" x2="479.51" y2="32.2" stroke="#858585" stroke-width="0.9"/>
<line x1="482.91" y1="204.4" x2="482.91" y2="202.6" stroke="#858585" stroke-width="0.9"/>
<line x1="482.91" y1="30.4" x2="482.91" y2="32.2" stroke="#858585" stroke-width="0.9"/>
<line x1="485.91" y1="204.4" x2="485.91" y2="202.6" stroke="#858585" stroke-width="0.9"/>
<line x1="485.91" y1="30.4" x2="485.91" y2="32.2" stroke="#858585" stroke-width="0.9"/>
<line x1="312.5" y1="193.92" x2="314.3" y2="193.92" stroke="#858585" stroke-width="0.9"/>
<line x1="488.6" y1="193.92" x2="486.8" y2="193.92" stroke="#858585" stroke-width="0.9"/>
<line x1="312.5" y1="187.8" x2="314.3" y2="187.8" stroke="#858585" stroke-width="0.9"/>
<line x1="488.6" y1="187.8" x2="486.8" y2="187.8" stroke="#858585" stroke-width="0.9"/>
<line x1="312.5" y1="183.45" x2="314.3" y2="183.45" stroke="#858585" stroke-width="0.9"/>
<line x1="488.6" y1="183.45" x2="486.8" y2="183.45" stroke="#858585" stroke-width="0.9"/>
<line x1="312.5" y1="180.08" x2="314.3" y2="180.08" stroke="#858585" stroke-width="0.9"/>
<line x1="488.6" y1="180.08" x2="486.8" y2="180.08" stroke="#858585" stroke-width="0.9"/>
<line x1="312.5" y1="177.32" x2="314.3" y2="177.32" stroke="#858585" stroke-width="0.9"/>
<line x1="488.6" y1="177.32" x2="486.8" y2="177.32" stroke="#858585" stroke-width="0.9"/>
<line x1="312.5" y1="174.99" x2="314.3" y2="174.99" stroke="#858585" stroke-width="0.9"/>
<line x1="488.6" y1="174.99" x2="486.8" y2="174.99" stroke="#858585" stroke-width="0.9"/>
<line x1="312.5" y1="172.97" x2="314.3" y2="172.97" stroke="#858585" stroke-width="0.9"/>
<line x1="488.6" y1="172.97" x2="486.8" y2="172.97" stroke="#858585" stroke-width="0.9"/>
<line x1="312.5" y1="171.19" x2="314.3" y2="171.19" stroke="#858585" stroke-width="0.9"/>
<line x1="488.6" y1="171.19" x2="486.8" y2="171.19" stroke="#858585" stroke-width="0.9"/>
<line x1="312.5" y1="169.6" x2="315.5" y2="169.6" stroke="#858585" stroke-width="0.9"/>
<line x1="488.6" y1="169.6" x2="485.6" y2="169.6" stroke="#858585" stroke-width="0.9"/>
<line x1="312.5" y1="159.12" x2="314.3" y2="159.12" stroke="#858585" stroke-width="0.9"/>
<line x1="488.6" y1="159.12" x2="486.8" y2="159.12" stroke="#858585" stroke-width="0.9"/>
<line x1="312.5" y1="153" x2="314.3" y2="153" stroke="#858585" stroke-width="0.9"/>
<line x1="488.6" y1="153" x2="486.8" y2="153" stroke="#858585" stroke-width="0.9"/>
<line x1="312.5" y1="148.65" x2="314.3" y2="148.65" stroke="#858585" stroke-width="0.9"/>
<line x1="488.6" y1="148.65" x2="486.8" y2="148.65" stroke="#858585" stroke-width="0.9"/>
<line x1="312.5" y1="145.28" x2="314.3" y2="145.28" stroke="#858585" stroke-width="0.9"/>
<line x1="488.6" y1="145.28" x2="486.8" y2="145.28" stroke="#858585" stroke-width="0.9"/>
<line x1="312.5" y1="142.52" x2="314.3" y2="142.52" stroke="#858585" stroke-width="0.9"/>
<line x1="488.6" y1="142.52" x2="486.8" y2="142.52" stroke="#858585" stroke-width="0.9"/>
<line x1="312.5" y1="140.19" x2="314.3" y2="140.19" stroke="#858585" stroke-width="0.9"/>
<line x1="488.6" y1="140.19" x2="486.8" y2="140.19" stroke="#858585" stroke-width="0.9"/>
<line x1="312.5" y1="138.17" x2="314.3" y2="138.17" stroke="#858585" stroke-width="0.9"/>
<line x1="488.6" y1="138.17" x2="486.8" y2="138.17" stroke="#858585" stroke-width="0.9"/>
<line x1="312.5" y1="136.39" x2="314.3" y2="136.39" stroke="#858585" stroke-width="0.9"/>
<line x1="488.6" y1="136.39" x2="486.8" y2="136.39" stroke="#858585" stroke-width="0.9"/>
<line x1="312.5" y1="134.8" x2="315.5" y2="134.8" stroke="#858585" stroke-width="0.9"/>
<line x1="488.6" y1="134.8" x2="485.6" y2="134.8" stroke="#858585" stroke-width="0.9"/>
<line x1="312.5" y1="124.32" x2="314.3" y2="124.32" stroke="#858585" stroke-width="0.9"/>
<line x1="488.6" y1="124.32" x2="486.8" y2="124.32" stroke="#858585" stroke-width="0.9"/>
<line x1="312.5" y1="118.2" x2="314.3" y2="118.2" stroke="#858585" stroke-width="0.9"/>
<line x1="488.6" y1="118.2" x2="486.8" y2="118.2" stroke="#858585" stroke-width="0.9"/>
<line x1="312.5" y1="113.85" x2="314.3" y2="113.85" stroke="#858585" stroke-width="0.9"/>
<line x1="488.6" y1="113.85" x2="486.8" y2="113.85" stroke="#858585" stroke-width="0.9"/>
<line x1="312.5" y1="110.48" x2="314.3" y2="110.48" stroke="#858585" stroke-width="0.9"/>
<line x1="488.6" y1="110.48" x2="486.8" y2="110.48" stroke="#858585" stroke-width="0.9"/>
<line x1="312.5" y1="107.72" x2="314.3" y2="107.72" stroke="#858585" stroke-width="0.9"/>
<line x1="488.6" y1="107.72" x2="486.8" y2="107.72" stroke="#858585" stroke-width="0.9"/>
<line x1="312.5" y1="105.39" x2="314.3" y2="105.39" stroke="#858585" stroke-width="0.9"/>
<line x1="488.6" y1="105.39" x2="486.8" y2="105.39" stroke="#858585" stroke-width="0.9"/>
<line x1="312.5" y1="103.37" x2="314.3" y2="103.37" stroke="#858585" stroke-width="0.9"/>
<line x1="488.6" y1="103.37" x2="486.8" y2="103.37" stroke="#858585" stroke-width="0.9"/>
<line x1="312.5" y1="101.59" x2="314.3" y2="101.59" stroke="#858585" stroke-width="0.9"/>
<line x1="488.6" y1="101.59" x2="486.8" y2="101.59" stroke="#858585" stroke-width="0.9"/>
<line x1="312.5" y1="100" x2="315.5" y2="100" stroke="#858585" stroke-width="0.9"/>
<line x1="488.6" y1="100" x2="485.6" y2="100" stroke="#858585" stroke-width="0.9"/>
<line x1="312.5" y1="89.52" x2="314.3" y2="89.52" stroke="#858585" stroke-width="0.9"/>
<line x1="488.6" y1="89.52" x2="486.8" y2="89.52" stroke="#858585" stroke-width="0.9"/>
<line x1="312.5" y1="83.4" x2="314.3" y2="83.4" stroke="#858585" stroke-width="0.9"/>
<line x1="488.6" y1="83.4" x2="486.8" y2="83.4" stroke="#858585" stroke-width="0.9"/>
<line x1="312.5" y1="79.05" x2="314.3" y2="79.05" stroke="#858585" stroke-width="0.9"/>
<line x1="488.6" y1="79.05" x2="486.8" y2="79.05" stroke="#858585" stroke-width="0.9"/>
<line x1="312.5" y1="75.68" x2="314.3" y2="75.68" stroke="#858585" stroke-width="0.9"/>
<line x1="488.6" y1="75.68" x2="486.8" y2="75.68" stroke="#858585" stroke-width="0.9"/>
<line x1="312.5" y1="72.92" x2="314.3" y2="72.92" stroke="#858585" stroke-width="0.9"/>
<line x1="488.6" y1="72.92" x2="486.8" y2="72.92" stroke="#858585" stroke-width="0.9"/>
<line x1="312.5" y1="70.59" x2="314.3" y2="70.59" stroke="#858585" stroke-width="0.9"/>
<line x1="488.6" y1="70.59" x2="486.8" y2="70.59" stroke="#858585" stroke-width="0.9"/>
<line x1="312.5" y1="68.57" x2="314.3" y2="68.57" stroke="#858585" stroke-width="0.9"/>
<line x1="488.6" y1="68.57" x2="486.8" y2="68.57" stroke="#858585" stroke-width="0.9"/>
<line x1="312.5" y1="66.79" x2="314.3" y2="66.79" stroke="#858585" stroke-width="0.9"/>
<line x1="488.6" y1="66.79" x2="486.8" y2="66.79" stroke="#858585" stroke-width="0.9"/>
<line x1="312.5" y1="65.2" x2="315.5" y2="65.2" stroke="#858585" stroke-width="0.9"/>
<line x1="488.6" y1="65.2" x2="485.6" y2="65.2" stroke="#858585" stroke-width="0.9"/>
<line x1="312.5" y1="54.72" x2="314.3" y2="54.72" stroke="#858585" stroke-width="0.9"/>
<line x1="488.6" y1="54.72" x2="486.8" y2="54.72" stroke="#858585" stroke-width="0.9"/>
<line x1="312.5" y1="48.6" x2="314.3" y2="48.6" stroke="#858585" stroke-width="0.9"/>
<line x1="488.6" y1="48.6" x2="486.8" y2="48.6" stroke="#858585" stroke-width="0.9"/>
<line x1="312.5" y1="44.25" x2="314.3" y2="44.25" stroke="#858585" stroke-width="0.9"/>
<line x1="488.6" y1="44.25" x2="486.8" y2="44.25" stroke="#858585" stroke-width="0.9"/>
<line x1="312.5" y1="40.88" x2="314.3" y2="40.88" stroke="#858585" stroke-width="0.9"/>
<line x1="488.6" y1="40.88" x2="486.8" y2="40.88" stroke="#858585" stroke-width="0.9"/>
<line x1="312.5" y1="38.12" x2="314.3" y2="38.12" stroke="#858585" stroke-width="0.9"/>
<line x1="488.6" y1="38.12" x2="486.8" y2="38.12" stroke="#858585" stroke-width="0.9"/>
<line x1="312.5" y1="35.79" x2="314.3" y2="35.79" stroke="#858585" stroke-width="0.9"/>
<line x1="488.6" y1="35.79" x2="486.8" y2="35.79" stroke="#858585" stroke-width="0.9"/>
<line x1="312.5" y1="33.77" x2="314.3" y2="33.77" stroke="#858585" stroke-width="0.9"/>
<line x1="488.6" y1="33.77" x2="486.8" y2="33.77" stroke="#858585" stroke-width="0.9"/>
<line x1="312.5" y1="31.99" x2="314.3" y2="31.99" stroke="#858585" stroke-width="0.9"/>
<line x1="488.6" y1="31.99" x2="486.8" y2="31.99" stroke="#858585" stroke-width="0.9"/>
<rect x="312.5" y="30.4" width="176.1" height="174" fill="none" stroke="#858585" stroke-width="1"/>
<line x1="312.5" y1="174.78" x2="488.6" y2="174.78" stroke="#c8c8c8" stroke-width="1.5" stroke-dasharray="6.2 6.0"/>
<path d="M312.5,104.4 L313.97,103.54 L315.44,102.67 L316.9,101.81 L318.37,100.94 L319.84,100.07 L321.31,99.21 L322.77,98.34 L324.24,97.48 L325.71,96.61 L327.18,95.75 L328.64,94.88 L330.11,94.02 L331.58,93.16 L333.05,92.29 L334.51,91.43 L335.98,90.57 L337.45,89.71 L338.92,88.85 L340.38,87.99 L341.85,87.13 L343.32,86.27 L344.79,85.41 L346.25,84.55 L347.72,83.69 L349.19,82.84 L350.66,81.98 L352.12,81.13 L353.59,80.27 L355.06,79.42 L356.52,78.57 L357.99,77.71 L359.46,76.86 L360.93,76.02 L362.39,75.17 L363.86,74.32 L365.33,73.48 L366.8,72.63 L368.26,71.79 L369.73,70.95 L371.2,70.11 L372.67,69.27 L374.13,68.44 L375.6,67.61 L377.07,66.78 L378.54,65.95 L380,65.12 L381.47,64.3 L382.94,63.48 L384.41,62.66 L385.88,61.84 L387.34,61.03 L388.81,60.22 L390.28,59.42 L391.75,58.62 L393.21,57.82 L394.68,57.03 L396.15,56.24 L397.62,55.46 L399.08,54.68 L400.55,53.9 L402.02,53.14 L403.49,52.37 L404.95,51.62 L406.42,50.87 L407.89,50.12 L409.36,49.39 L410.82,48.66 L412.29,47.94 L413.76,47.23 L415.23,46.52 L416.69,45.83 L418.16,45.14 L419.63,44.47 L421.1,43.8 L422.56,43.15 L424.03,42.51 L425.5,41.88 L426.97,41.26 L428.43,40.65 L429.9,40.06 L431.37,39.49 L432.84,38.92 L434.3,38.38 L435.77,37.85 L437.24,37.33 L438.71,36.83 L440.17,36.35 L441.64,35.89 L443.11,35.45 L444.58,35.02 L446.04,34.62 L447.51,34.23 L448.98,33.87 L450.45,33.52 L451.91,33.2 L453.38,32.89 L454.85,32.61 L456.32,32.35 L457.78,32.1 L459.25,31.88 L460.72,31.68 L462.19,31.49 L463.65,31.33 L465.12,31.18 L466.59,31.05 L468.06,31 L469.52,31 L470.99,31 L472.46,31 L473.93,31 L475.39,31 L476.86,31 L478.33,31 L479.8,31 L481.26,31 L482.73,31 L484.2,31 L485.67,31 L487.13,31 L488.6,31" fill="none" stroke="#87008c" stroke-width="2"/>
<line x1="312.5" y1="98.29" x2="488.6" y2="47.44" stroke="#16298c" stroke-width="1.9" stroke-dasharray="6.6 5.1"/>
<line x1="340.51" y1="77.51" x2="340.51" y2="100.2" stroke="#16298c" stroke-width="1"/>
<line x1="338.01" y1="77.51" x2="343.01" y2="77.51" stroke="#16298c" stroke-width="1"/>
<line x1="338.01" y1="100.2" x2="343.01" y2="100.2" stroke="#16298c" stroke-width="1"/>
<line x1="353.53" y1="77.27" x2="353.53" y2="79.82" stroke="#16298c" stroke-width="1"/>
<line x1="351.03" y1="77.27" x2="356.03" y2="77.27" stroke="#16298c" stroke-width="1"/>
<line x1="351.03" y1="79.82" x2="356.03" y2="79.82" stroke="#16298c" stroke-width="1"/>
<line x1="368.51" y1="68.31" x2="368.51" y2="77.1" stroke="#16298c" stroke-width="1"/>
<line x1="366.01" y1="68.31" x2="371.01" y2="68.31" stroke="#16298c" stroke-width="1"/>
<line x1="366.01" y1="77.1" x2="371.01" y2="77.1" stroke="#16298c" stroke-width="1"/>
<line x1="412.23" y1="68.57" x2="412.23" y2="70.59" stroke="#16298c" stroke-width="1"/>
<line x1="409.73" y1="68.57" x2="414.73" y2="68.57" stroke="#16298c" stroke-width="1"/>
<line x1="409.73" y1="70.59" x2="414.73" y2="70.59" stroke="#16298c" stroke-width="1"/>
<circle cx="340.51" cy="85.1" r="2.6" fill="#16298c"/>
<circle cx="353.53" cy="78.49" r="2.6" fill="#16298c"/>
<circle cx="368.51" cy="71.99" r="2.6" fill="#16298c"/>
<circle cx="383.18" cy="66.91" r="2.6" fill="#16298c"/>
<circle cx="399.21" cy="71.3" r="2.6" fill="#16298c"/>
<circle cx="412.23" cy="69.51" r="2.6" fill="#16298c"/>
<circle cx="424.21" cy="68.31" r="2.6" fill="#16298c"/>
<text x="300.1" y="36.8" font-size="14.4" fill="#262626" text-anchor="end" textLength="16.4" lengthAdjust="spacingAndGlyphs" font-family='"Liberation Serif", serif'>10</text>
<text x="300.9" y="31.7" font-size="10" fill="#262626" font-family='"Liberation Serif", serif'>0</text>
<text x="300.1" y="106.4" font-size="14.4" fill="#262626" text-anchor="end" textLength="16.4" lengthAdjust="spacingAndGlyphs" font-family='"Liberation Serif", serif'>10</text>
<text x="300.9" y="101.3" font-size="10" fill="#262626" font-family='"Liberation Serif", serif'>-2</text>
<text x="300.1" y="176" font-size="14.4" fill="#262626" text-anchor="end" textLength="16.4" lengthAdjust="spacingAndGlyphs" font-family='"Liberation Serif", serif'>10</text>
<text x="300.9" y="170.9" font-size="10" fill="#262626" font-family='"Liberation Serif", serif'>-4</text>
<text x="472" y="48.5" font-size="18.5" fill="#000" font-weight="bold">D</text>
<line x1="329.31" y1="399.2" x2="329.31" y2="397.4" stroke="#858585" stroke-width="0.9"/>
<line x1="329.31" y1="224.5" x2="329.31" y2="226.3" stroke="#858585" stroke-width="0.9"/>
<line x1="339.73" y1="399.2" x2="339.73" y2="397.4" stroke="#858585" stroke-width="0.9"/>
<line x1="339.73" y1="224.5" x2="339.73" y2="226.3" stroke="#858585" stroke-width="0.9"/>
<line x1="347.12" y1="399.2" x2="347.12" y2="397.4" stroke="#858585" stroke-width="0.9"/>
<line x1="347.12" y1="224.5" x2="347.12" y2="226.3" stroke="#858585" stroke-width="0.9"/>
<line x1="352.86" y1="399.2" x2="352.86" y2="397.4" stroke="#858585" stroke-width="0.9"/>
<line x1="352.86" y1="224.5" x2="352.86" y2="226.3" stroke="#858585" stroke-width="0.9"/>
<line x1="357.54" y1="399.2" x2="357.54" y2="397.4" stroke="#858585" stroke-width="0.9"/>
<line x1="357.54" y1="224.5" x2="357.54" y2="226.3" stroke="#858585" stroke-width="0.9"/>
<line x1="361.5" y1="399.2" x2="361.5" y2="397.4" stroke="#858585" stroke-width="0.9"/>
<line x1="361.5" y1="224.5" x2="361.5" y2="226.3" stroke="#858585" stroke-width="0.9"/>
<line x1="364.93" y1="399.2" x2="364.93" y2="397.4" stroke="#858585" stroke-width="0.9"/>
<line x1="364.93" y1="224.5" x2="364.93" y2="226.3" stroke="#858585" stroke-width="0.9"/>
<line x1="367.96" y1="399.2" x2="367.96" y2="397.4" stroke="#858585" stroke-width="0.9"/>
<line x1="367.96" y1="224.5" x2="367.96" y2="226.3" stroke="#858585" stroke-width="0.9"/>
<line x1="370.67" y1="399.2" x2="370.67" y2="396.2" stroke="#858585" stroke-width="0.9"/>
<line x1="370.67" y1="224.5" x2="370.67" y2="227.5" stroke="#858585" stroke-width="0.9"/>
<line x1="388.48" y1="399.2" x2="388.48" y2="397.4" stroke="#858585" stroke-width="0.9"/>
<line x1="388.48" y1="224.5" x2="388.48" y2="226.3" stroke="#858585" stroke-width="0.9"/>
<line x1="398.9" y1="399.2" x2="398.9" y2="397.4" stroke="#858585" stroke-width="0.9"/>
<line x1="398.9" y1="224.5" x2="398.9" y2="226.3" stroke="#858585" stroke-width="0.9"/>
<line x1="406.29" y1="399.2" x2="406.29" y2="397.4" stroke="#858585" stroke-width="0.9"/>
<line x1="406.29" y1="224.5" x2="406.29" y2="226.3" stroke="#858585" stroke-width="0.9"/>
<line x1="412.02" y1="399.2" x2="412.02" y2="397.4" stroke="#858585" stroke-width="0.9"/>
<line x1="412.02" y1="224.5" x2="412.02" y2="226.3" stroke="#858585" stroke-width="0.9"/>
<line x1="416.71" y1="399.2" x2="416.71" y2="397.4" stroke="#858585" stroke-width="0.9"/>
<line x1="416.71" y1="224.5" x2="416.71" y2="226.3" stroke="#858585" stroke-width="0.9"/>
<line x1="420.67" y1="399.2" x2="420.67" y2="397.4" stroke="#858585" stroke-width="0.9"/>
<line x1="420.67" y1="224.5" x2="420.67" y2="226.3" stroke="#858585" stroke-width="0.9"/>
<line x1="424.1" y1="399.2" x2="424.1" y2="397.4" stroke="#858585" stroke-width="0.9"/>
<line x1="424.1" y1="224.5" x2="424.1" y2="226.3" stroke="#858585" stroke-width="0.9"/>
<line x1="427.13" y1="399.2" x2="427.13" y2="397.4" stroke="#858585" stroke-width="0.9"/>
<line x1="427.13" y1="224.5" x2="427.13" y2="226.3" stroke="#858585" stroke-width="0.9"/>
<line x1="429.83" y1="399.2" x2="429.83" y2="396.2" stroke="#858585" stroke-width="0.9"/>
<line x1="429.83" y1="224.5" x2="429.83" y2="227.5" stroke="#858585" stroke-width="0.9"/>
<line x1="447.64" y1="399.2" x2="447.64" y2="397.4" stroke="#858585" stroke-width="0.9"/>
<line x1="447.64" y1="224.5" x2="447.64" y2="226.3" stroke="#858585" stroke-width="0.9"/>
<line x1="458.06" y1="399.2" x2="458.06" y2="397.4" stroke="#858585" stroke-width="0.9"/>
<line x1="458.06" y1="224.5" x2="458.06" y2="226.3" stroke="#858585" stroke-width="0.9"/>
<line x1="465.46" y1="399.2" x2="465.46" y2="397.4" stroke="#858585" stroke-width="0.9"/>
<line x1="465.46" y1="224.5" x2="465.46" y2="226.3" stroke="#858585" stroke-width="0.9"/>
<line x1="471.19" y1="399.2" x2="471.19" y2="397.4" stroke="#858585" stroke-width="0.9"/>
<line x1="471.19" y1="224.5" x2="471.19" y2="226.3" stroke="#858585" stroke-width="0.9"/>
<line x1="475.87" y1="399.2" x2="475.87" y2="397.4" stroke="#858585" stroke-width="0.9"/>
<line x1="475.87" y1="224.5" x2="475.87" y2="226.3" stroke="#858585" stroke-width="0.9"/>
<line x1="479.83" y1="399.2" x2="479.83" y2="397.4" stroke="#858585" stroke-width="0.9"/>
<line x1="479.83" y1="224.5" x2="479.83" y2="226.3" stroke="#858585" stroke-width="0.9"/>
<line x1="483.27" y1="399.2" x2="483.27" y2="397.4" stroke="#858585" stroke-width="0.9"/>
<line x1="483.27" y1="224.5" x2="483.27" y2="226.3" stroke="#858585" stroke-width="0.9"/>
<line x1="486.29" y1="399.2" x2="486.29" y2="397.4" stroke="#858585" stroke-width="0.9"/>
<line x1="486.29" y1="224.5" x2="486.29" y2="226.3" stroke="#858585" stroke-width="0.9"/>
<line x1="311.5" y1="386.05" x2="313.3" y2="386.05" stroke="#858585" stroke-width="0.9"/>
<line x1="489" y1="386.05" x2="487.2" y2="386.05" stroke="#858585" stroke-width="0.9"/>
<line x1="311.5" y1="378.36" x2="313.3" y2="378.36" stroke="#858585" stroke-width="0.9"/>
<line x1="489" y1="378.36" x2="487.2" y2="378.36" stroke="#858585" stroke-width="0.9"/>
<line x1="311.5" y1="372.91" x2="313.3" y2="372.91" stroke="#858585" stroke-width="0.9"/>
<line x1="489" y1="372.91" x2="487.2" y2="372.91" stroke="#858585" stroke-width="0.9"/>
<line x1="311.5" y1="368.67" x2="313.3" y2="368.67" stroke="#858585" stroke-width="0.9"/>
<line x1="489" y1="368.67" x2="487.2" y2="368.67" stroke="#858585" stroke-width="0.9"/>
<line x1="311.5" y1="365.21" x2="313.3" y2="365.21" stroke="#858585" stroke-width="0.9"/>
<line x1="489" y1="365.21" x2="487.2" y2="365.21" stroke="#858585" stroke-width="0.9"/>
<line x1="311.5" y1="362.29" x2="313.3" y2="362.29" stroke="#858585" stroke-width="0.9"/>
<line x1="489" y1="362.29" x2="487.2" y2="362.29" stroke="#858585" stroke-width="0.9"/>
<line x1="311.5" y1="359.76" x2="313.3" y2="359.76" stroke="#858585" stroke-width="0.9"/>
<line x1="489" y1="359.76" x2="487.2" y2="359.76" stroke="#858585" stroke-width="0.9"/>
<line x1="311.5" y1="357.52" x2="313.3" y2="357.52" stroke="#858585" stroke-width="0.9"/>
<line x1="489" y1="357.52" x2="487.2" y2="357.52" stroke="#858585" stroke-width="0.9"/>
<line x1="311.5" y1="355.52" x2="314.5" y2="355.52" stroke="#858585" stroke-width="0.9"/>
<line x1="489" y1="355.52" x2="486" y2="355.52" stroke="#858585" stroke-width="0.9"/>
<line x1="311.5" y1="342.38" x2="313.3" y2="342.38" stroke="#858585" stroke-width="0.9"/>
<line x1="489" y1="342.38" x2="487.2" y2="342.38" stroke="#858585" stroke-width="0.9"/>
<line x1="311.5" y1="334.69" x2="313.3" y2="334.69" stroke="#858585" stroke-width="0.9"/>
<line x1="489" y1="334.69" x2="487.2" y2="334.69" stroke="#858585" stroke-width="0.9"/>
<line x1="311.5" y1="329.23" x2="313.3" y2="329.23" stroke="#858585" stroke-width="0.9"/>
<line x1="489" y1="329.23" x2="487.2" y2="329.23" stroke="#858585" stroke-width="0.9"/>
<line x1="311.5" y1="325" x2="313.3" y2="325" stroke="#858585" stroke-width="0.9"/>
<line x1="489" y1="325" x2="487.2" y2="325" stroke="#858585" stroke-width="0.9"/>
<line x1="311.5" y1="321.54" x2="313.3" y2="321.54" stroke="#858585" stroke-width="0.9"/>
<line x1="489" y1="321.54" x2="487.2" y2="321.54" stroke="#858585" stroke-width="0.9"/>
<line x1="311.5" y1="318.62" x2="313.3" y2="318.62" stroke="#858585" stroke-width="0.9"/>
<line x1="489" y1="318.62" x2="487.2" y2="318.62" stroke="#858585" stroke-width="0.9"/>
<line x1="311.5" y1="316.08" x2="313.3" y2="316.08" stroke="#858585" stroke-width="0.9"/>
<line x1="489" y1="316.08" x2="487.2" y2="316.08" stroke="#858585" stroke-width="0.9"/>
<line x1="311.5" y1="313.85" x2="313.3" y2="313.85" stroke="#858585" stroke-width="0.9"/>
<line x1="489" y1="313.85" x2="487.2" y2="313.85" stroke="#858585" stroke-width="0.9"/>
<line x1="311.5" y1="311.85" x2="314.5" y2="311.85" stroke="#858585" stroke-width="0.9"/>
<line x1="489" y1="311.85" x2="486" y2="311.85" stroke="#858585" stroke-width="0.9"/>
<line x1="311.5" y1="298.7" x2="313.3" y2="298.7" stroke="#858585" stroke-width="0.9"/>
<line x1="489" y1="298.7" x2="487.2" y2="298.7" stroke="#858585" stroke-width="0.9"/>
<line x1="311.5" y1="291.01" x2="313.3" y2="291.01" stroke="#858585" stroke-width="0.9"/>
<line x1="489" y1="291.01" x2="487.2" y2="291.01" stroke="#858585" stroke-width="0.9"/>
<line x1="311.5" y1="285.56" x2="313.3" y2="285.56" stroke="#858585" stroke-width="0.9"/>
<line x1="489" y1="285.56" x2="487.2" y2="285.56" stroke="#858585" stroke-width="0.9"/>
<line x1="311.5" y1="281.32" x2="313.3" y2="281.32" stroke="#858585" stroke-width="0.9"/>
<line x1="489" y1="281.32" x2="487.2" y2="281.32" stroke="#858585" stroke-width="0.9"/>
<line x1="311.5" y1="277.86" x2="313.3" y2="277.86" stroke="#858585" stroke-width="0.9"/>
<line x1="489" y1="277.86" x2="487.2" y2="277.86" stroke="#858585" stroke-width="0.9"/>
<line x1="311.5" y1="274.94" x2="313.3" y2="274.94" stroke="#858585" stroke-width="0.9"/>
<line x1="489" y1="274.94" x2="487.2" y2="274.94" stroke="#858585" stroke-width="0.9"/>
<line x1="311.5" y1="272.41" x2="313.3" y2="272.41" stroke="#858585" stroke-width="0.9"/>
<line x1="489" y1="272.41" x2="487.2" y2="272.41" stroke="#858585" stroke-width="0.9"/>
<line x1="311.5" y1="270.17" x2="313.3" y2="270.17" stroke="#858585" stroke-width="0.9"/>
<line x1="489" y1="270.17" x2="487.2" y2="270.17" stroke="#858585" stroke-width="0.9"/>
<line x1="311.5" y1="268.18" x2="314.5" y2="268.18" stroke="#858585" stroke-width="0.9"/>
<line x1="489" y1="268.18" x2="486" y2="268.18" stroke="#858585" stroke-width="0.9"/>
<line x1="311.5" y1="255.03" x2="313.3" y2="255.03" stroke="#858585" stroke-width="0.9"/>
<line x1="489" y1="255.03" x2="487.2" y2="255.03" stroke="#858585" stroke-width="0.9"/>
<line x1="311.5" y1="247.34" x2="313.3" y2="247.34" stroke="#858585" stroke-width="0.9"/>
<line x1="489" y1="247.34" x2="487.2" y2="247.34" stroke="#858585" stroke-width="0.9"/>
<line x1="311.5" y1="241.88" x2="313.3" y2="241.88" stroke="#858585" stroke-width="0.9"/>
<line x1="489" y1="241.88" x2="487.2" y2="241.88" stroke="#858585" stroke-width="0.9"/>
<line x1="311.5" y1="237.65" x2="313.3" y2="237.65" stroke="#858585" stroke-width="0.9"/>
<line x1="489" y1="237.65" x2="487.2" y2="237.65" stroke="#858585" stroke-width="0.9"/>
<line x1="311.5" y1="234.19" x2="313.3" y2="234.19" stroke="#858585" stroke-width="0.9"/>
<line x1="489" y1="234.19" x2="487.2" y2="234.19" stroke="#858585" stroke-width="0.9"/>
<line x1="311.5" y1="231.27" x2="313.3" y2="231.27" stroke="#858585" stroke-width="0.9"/>
<line x1="489" y1="231.27" x2="487.2" y2="231.27" stroke="#858585" stroke-width="0.9"/>
<line x1="311.5" y1="228.73" x2="313.3" y2="228.73" stroke="#858585" stroke-width="0.9"/>
<line x1="489" y1="228.73" x2="487.2" y2="228.73" stroke="#858585" stroke-width="0.9"/>
<line x1="311.5" y1="226.5" x2="313.3" y2="226.5" stroke="#858585" stroke-width="0.9"/>
<line x1="489" y1="226.5" x2="487.2" y2="226.5" stroke="#858585" stroke-width="0.9"/>
<rect x="311.5" y="224.5" width="177.5" height="174.7" fill="none" stroke="#858585" stroke-width="1"/>
<line x1="311.5" y1="318.62" x2="489" y2="318.62" stroke="#c8c8c8" stroke-width="1" stroke-dasharray="6.2 6.0"/>
<path d="M311.5,225.1 L312.98,225.1 L314.46,225.1 L315.94,225.1 L317.42,225.1 L318.9,225.1 L320.38,225.1 L321.85,225.1 L323.33,225.1 L324.81,225.1 L326.29,225.1 L327.77,225.1 L329.25,225.1 L330.73,225.1 L332.21,225.1 L333.69,225.1 L335.17,225.1 L336.65,225.1 L338.12,225.1 L339.6,225.1 L341.08,225.1 L342.56,225.1 L344.04,225.1 L345.52,225.1 L347,225.1 L348.48,225.1 L349.96,225.1 L351.44,225.1 L352.92,225.1 L354.4,225.1 L355.88,225.1 L357.35,225.1 L358.83,225.1 L360.31,225.1 L361.79,225.1 L363.27,225.1 L364.75,225.1 L366.23,225.1 L367.71,225.1 L369.19,225.1 L370.67,225.1 L372.15,225.1 L373.62,225.1 L375.1,225.1 L376.58,225.1 L378.06,225.1 L379.54,225.1 L381.02,225.1 L382.5,225.1 L383.98,225.1 L385.46,225.1 L386.94,225.1 L388.42,225.1 L389.9,225.1 L391.38,225.1 L392.85,225.1 L394.33,225.1 L395.81,225.1 L397.29,225.1 L398.77,225.1 L400.25,225.1 L401.73,225.1 L403.21,225.1 L404.69,225.1 L406.17,225.1 L407.65,225.1 L409.12,225.1 L410.6,225.1 L412.08,225.1 L413.56,225.1 L415.04,225.1 L416.52,225.1 L418,225.1 L419.48,225.1 L420.96,225.1 L422.44,225.1 L423.92,225.1 L425.4,225.1 L426.88,225.1 L428.35,225.1 L429.83,225.1 L431.31,225.1 L432.79,225.1 L434.27,225.1 L435.75,225.1 L437.23,225.1 L438.71,225.1 L440.19,225.1 L441.67,225.1 L443.15,225.1 L444.62,225.1 L446.1,225.1 L447.58,225.1 L449.06,225.1 L450.54,225.1 L452.02,225.1 L453.5,225.1 L454.98,225.1 L456.46,225.1 L457.94,225.1 L459.42,225.1 L460.9,225.1 L462.38,225.1 L463.85,225.1 L465.33,225.1 L466.81,225.1 L468.29,225.1 L469.77,225.1 L471.25,225.1 L472.73,225.1 L474.21,225.1 L475.69,225.1 L477.17,225.1 L478.65,225.1 L480.12,225.1 L481.6,225.1 L483.08,225.1 L484.56,225.1 L486.04,225.1 L487.52,225.1 L489,225.1" fill="none" stroke="#87008c" stroke-width="2"/>
<line x1="311.5" y1="299.48" x2="489" y2="236.58" stroke="#16298c" stroke-width="1.9" stroke-dasharray="6.6 5.1"/>
<line x1="339.73" y1="283.32" x2="339.73" y2="286.53" stroke="#16298c" stroke-width="1"/>
<line x1="337.23" y1="283.32" x2="342.23" y2="283.32" stroke="#16298c" stroke-width="1"/>
<line x1="337.23" y1="286.53" x2="342.23" y2="286.53" stroke="#16298c" stroke-width="1"/>
<line x1="352.86" y1="268.83" x2="352.86" y2="289.38" stroke="#16298c" stroke-width="1"/>
<line x1="350.36" y1="268.83" x2="355.36" y2="268.83" stroke="#16298c" stroke-width="1"/>
<line x1="350.36" y1="289.38" x2="355.36" y2="289.38" stroke="#16298c" stroke-width="1"/>
<line x1="367.96" y1="267.5" x2="367.96" y2="274.25" stroke="#16298c" stroke-width="1"/>
<line x1="365.46" y1="267.5" x2="370.46" y2="267.5" stroke="#16298c" stroke-width="1"/>
<line x1="365.46" y1="274.25" x2="370.46" y2="274.25" stroke="#16298c" stroke-width="1"/>
<line x1="382.74" y1="267.5" x2="382.74" y2="275.16" stroke="#16298c" stroke-width="1"/>
<line x1="380.24" y1="267.5" x2="385.24" y2="267.5" stroke="#16298c" stroke-width="1"/>
<line x1="380.24" y1="275.16" x2="385.24" y2="275.16" stroke="#16298c" stroke-width="1"/>
<line x1="398.9" y1="263.05" x2="398.9" y2="265.52" stroke="#16298c" stroke-width="1"/>
<line x1="396.4" y1="263.05" x2="401.4" y2="263.05" stroke="#16298c" stroke-width="1"/>
<line x1="396.4" y1="265.52" x2="401.4" y2="265.52" stroke="#16298c" stroke-width="1"/>
<line x1="412.02" y1="261.93" x2="412.02" y2="268.02" stroke="#16298c" stroke-width="1"/>
<line x1="409.52" y1="261.93" x2="414.52" y2="261.93" stroke="#16298c" stroke-width="1"/>
<line x1="409.52" y1="268.02" x2="414.52" y2="268.02" stroke="#16298c" stroke-width="1"/>
<circle cx="339.73" cy="284.86" r="2.6" fill="#16298c"/>
<circle cx="352.86" cy="276.61" r="2.6" fill="#16298c"/>
<circle cx="367.96" cy="270.99" r="2.6" fill="#16298c"/>
<circle cx="382.74" cy="271.69" r="2.6" fill="#16298c"/>
<circle cx="398.9" cy="264.25" r="2.6" fill="#16298c"/>
<circle cx="412.02" cy="264.56" r="2.6" fill="#16298c"/>
<circle cx="424.1" cy="266.96" r="2.6" fill="#16298c"/>
<text x="299.1" y="230.9" font-size="14.4" fill="#262626" text-anchor="end" textLength="16.4" lengthAdjust="spacingAndGlyphs" font-family='"Liberation Serif", serif'>10</text>
<text x="299.9" y="225.8" font-size="10" fill="#262626" font-family='"Liberation Serif", serif'>0</text>
<text x="299.1" y="318.25" font-size="14.4" fill="#262626" text-anchor="end" textLength="16.4" lengthAdjust="spacingAndGlyphs" font-family='"Liberation Serif", serif'>10</text>
<text x="299.9" y="313.15" font-size="10" fill="#262626" font-family='"Liberation Serif", serif'>-2</text>
<text x="299.1" y="400.4" font-size="14.4" fill="#262626" text-anchor="end" textLength="16.4" lengthAdjust="spacingAndGlyphs" font-family='"Liberation Serif", serif'>10</text>
<text x="299.9" y="395.3" font-size="10" fill="#262626" font-family='"Liberation Serif", serif'>-4</text>
<text x="309.7" y="415.4" font-size="14.4" fill="#262626" textLength="16.4" lengthAdjust="spacingAndGlyphs" font-family='"Liberation Serif", serif'>10</text>
<text x="326.5" y="409.8" font-size="10" fill="#262626" font-family='"Liberation Serif", serif'>0</text>
<text x="362.07" y="415.4" font-size="14.4" fill="#262626" textLength="16.4" lengthAdjust="spacingAndGlyphs" font-family='"Liberation Serif", serif'>10</text>
<text x="378.87" y="409.8" font-size="10" fill="#262626" font-family='"Liberation Serif", serif'>1</text>
<text x="421.33" y="415.4" font-size="14.4" fill="#262626" textLength="16.4" lengthAdjust="spacingAndGlyphs" font-family='"Liberation Serif", serif'>10</text>
<text x="438.13" y="409.8" font-size="10" fill="#262626" font-family='"Liberation Serif", serif'>2</text>
<text x="472.3" y="415.4" font-size="14.4" fill="#262626" textLength="16.4" lengthAdjust="spacingAndGlyphs" font-family='"Liberation Serif", serif'>10</text>
<text x="489.1" y="409.8" font-size="10" fill="#262626" font-family='"Liberation Serif", serif'>3</text>
<text x="471.8" y="240.4" font-size="18.5" fill="#000" font-weight="bold">E</text>
<line x1="518.73" y1="204.4" x2="518.73" y2="202.6" stroke="#858585" stroke-width="0.9"/>
<line x1="518.73" y1="30.5" x2="518.73" y2="32.3" stroke="#858585" stroke-width="0.9"/>
<line x1="529.1" y1="204.4" x2="529.1" y2="202.6" stroke="#858585" stroke-width="0.9"/>
<line x1="529.1" y1="30.5" x2="529.1" y2="32.3" stroke="#858585" stroke-width="0.9"/>
<line x1="536.46" y1="204.4" x2="536.46" y2="202.6" stroke="#858585" stroke-width="0.9"/>
<line x1="536.46" y1="30.5" x2="536.46" y2="32.3" stroke="#858585" stroke-width="0.9"/>
<line x1="542.17" y1="204.4" x2="542.17" y2="202.6" stroke="#858585" stroke-width="0.9"/>
<line x1="542.17" y1="30.5" x2="542.17" y2="32.3" stroke="#858585" stroke-width="0.9"/>
<line x1="546.83" y1="204.4" x2="546.83" y2="202.6" stroke="#858585" stroke-width="0.9"/>
<line x1="546.83" y1="30.5" x2="546.83" y2="32.3" stroke="#858585" stroke-width="0.9"/>
<line x1="550.78" y1="204.4" x2="550.78" y2="202.6" stroke="#858585" stroke-width="0.9"/>
<line x1="550.78" y1="30.5" x2="550.78" y2="32.3" stroke="#858585" stroke-width="0.9"/>
<line x1="554.19" y1="204.4" x2="554.19" y2="202.6" stroke="#858585" stroke-width="0.9"/>
<line x1="554.19" y1="30.5" x2="554.19" y2="32.3" stroke="#858585" stroke-width="0.9"/>
<line x1="557.2" y1="204.4" x2="557.2" y2="202.6" stroke="#858585" stroke-width="0.9"/>
<line x1="557.2" y1="30.5" x2="557.2" y2="32.3" stroke="#858585" stroke-width="0.9"/>
<line x1="559.9" y1="204.4" x2="559.9" y2="201.4" stroke="#858585" stroke-width="0.9"/>
<line x1="559.9" y1="30.5" x2="559.9" y2="33.5" stroke="#858585" stroke-width="0.9"/>
<line x1="577.63" y1="204.4" x2="577.63" y2="202.6" stroke="#858585" stroke-width="0.9"/>
<line x1="577.63" y1="30.5" x2="577.63" y2="32.3" stroke="#858585" stroke-width="0.9"/>
<line x1="588" y1="204.4" x2="588" y2="202.6" stroke="#858585" stroke-width="0.9"/>
<line x1="588" y1="30.5" x2="588" y2="32.3" stroke="#858585" stroke-width="0.9"/>
<line x1="595.36" y1="204.4" x2="595.36" y2="202.6" stroke="#858585" stroke-width="0.9"/>
<line x1="595.36" y1="30.5" x2="595.36" y2="32.3" stroke="#858585" stroke-width="0.9"/>
<line x1="601.07" y1="204.4" x2="601.07" y2="202.6" stroke="#858585" stroke-width="0.9"/>
<line x1="601.07" y1="30.5" x2="601.07" y2="32.3" stroke="#858585" stroke-width="0.9"/>
<line x1="605.73" y1="204.4" x2="605.73" y2="202.6" stroke="#858585" stroke-width="0.9"/>
<line x1="605.73" y1="30.5" x2="605.73" y2="32.3" stroke="#858585" stroke-width="0.9"/>
<line x1="609.68" y1="204.4" x2="609.68" y2="202.6" stroke="#858585" stroke-width="0.9"/>
<line x1="609.68" y1="30.5" x2="609.68" y2="32.3" stroke="#858585" stroke-width="0.9"/>
<line x1="613.09" y1="204.4" x2="613.09" y2="202.6" stroke="#858585" stroke-width="0.9"/>
<line x1="613.09" y1="30.5" x2="613.09" y2="32.3" stroke="#858585" stroke-width="0.9"/>
<line x1="616.1" y1="204.4" x2="616.1" y2="202.6" stroke="#858585" stroke-width="0.9"/>
<line x1="616.1" y1="30.5" x2="616.1" y2="32.3" stroke="#858585" stroke-width="0.9"/>
<line x1="618.8" y1="204.4" x2="618.8" y2="201.4" stroke="#858585" stroke-width="0.9"/>
<line x1="618.8" y1="30.5" x2="618.8" y2="33.5" stroke="#858585" stroke-width="0.9"/>
<line x1="636.53" y1="204.4" x2="636.53" y2="202.6" stroke="#858585" stroke-width="0.9"/>
<line x1="636.53" y1="30.5" x2="636.53" y2="32.3" stroke="#858585" stroke-width="0.9"/>
<line x1="646.9" y1="204.4" x2="646.9" y2="202.6" stroke="#858585" stroke-width="0.9"/>
<line x1="646.9" y1="30.5" x2="646.9" y2="32.3" stroke="#858585" stroke-width="0.9"/>
<line x1="654.26" y1="204.4" x2="654.26" y2="202.6" stroke="#858585" stroke-width="0.9"/>
<line x1="654.26" y1="30.5" x2="654.26" y2="32.3" stroke="#858585" stroke-width="0.9"/>
<line x1="659.97" y1="204.4" x2="659.97" y2="202.6" stroke="#858585" stroke-width="0.9"/>
<line x1="659.97" y1="30.5" x2="659.97" y2="32.3" stroke="#858585" stroke-width="0.9"/>
<line x1="664.63" y1="204.4" x2="664.63" y2="202.6" stroke="#858585" stroke-width="0.9"/>
<line x1="664.63" y1="30.5" x2="664.63" y2="32.3" stroke="#858585" stroke-width="0.9"/>
<line x1="668.58" y1="204.4" x2="668.58" y2="202.6" stroke="#858585" stroke-width="0.9"/>
<line x1="668.58" y1="30.5" x2="668.58" y2="32.3" stroke="#858585" stroke-width="0.9"/>
<line x1="671.99" y1="204.4" x2="671.99" y2="202.6" stroke="#858585" stroke-width="0.9"/>
<line x1="671.99" y1="30.5" x2="671.99" y2="32.3" stroke="#858585" stroke-width="0.9"/>
<line x1="675" y1="204.4" x2="675" y2="202.6" stroke="#858585" stroke-width="0.9"/>
<line x1="675" y1="30.5" x2="675" y2="32.3" stroke="#858585" stroke-width="0.9"/>
<line x1="501" y1="193.93" x2="502.8" y2="193.93" stroke="#858585" stroke-width="0.9"/>
<line x1="677.7" y1="193.93" x2="675.9" y2="193.93" stroke="#858585" stroke-width="0.9"/>
<line x1="501" y1="187.81" x2="502.8" y2="187.81" stroke="#858585" stroke-width="0.9"/>
<line x1="677.7" y1="187.81" x2="675.9" y2="187.81" stroke="#858585" stroke-width="0.9"/>
<line x1="501" y1="183.46" x2="502.8" y2="183.46" stroke="#858585" stroke-width="0.9"/>
<line x1="677.7" y1="183.46" x2="675.9" y2="183.46" stroke="#858585" stroke-width="0.9"/>
<line x1="501" y1="180.09" x2="502.8" y2="180.09" stroke="#858585" stroke-width="0.9"/>
<line x1="677.7" y1="180.09" x2="675.9" y2="180.09" stroke="#858585" stroke-width="0.9"/>
<line x1="501" y1="177.34" x2="502.8" y2="177.34" stroke="#858585" stroke-width="0.9"/>
<line x1="677.7" y1="177.34" x2="675.9" y2="177.34" stroke="#858585" stroke-width="0.9"/>
<line x1="501" y1="175.01" x2="502.8" y2="175.01" stroke="#858585" stroke-width="0.9"/>
<line x1="677.7" y1="175.01" x2="675.9" y2="175.01" stroke="#858585" stroke-width="0.9"/>
<line x1="501" y1="172.99" x2="502.8" y2="172.99" stroke="#858585" stroke-width="0.9"/>
<line x1="677.7" y1="172.99" x2="675.9" y2="172.99" stroke="#858585" stroke-width="0.9"/>
<line x1="501" y1="171.21" x2="502.8" y2="171.21" stroke="#858585" stroke-width="0.9"/>
<line x1="677.7" y1="171.21" x2="675.9" y2="171.21" stroke="#858585" stroke-width="0.9"/>
<line x1="501" y1="169.62" x2="504" y2="169.62" stroke="#858585" stroke-width="0.9"/>
<line x1="677.7" y1="169.62" x2="674.7" y2="169.62" stroke="#858585" stroke-width="0.9"/>
<line x1="501" y1="159.15" x2="502.8" y2="159.15" stroke="#858585" stroke-width="0.9"/>
<line x1="677.7" y1="159.15" x2="675.9" y2="159.15" stroke="#858585" stroke-width="0.9"/>
<line x1="501" y1="153.03" x2="502.8" y2="153.03" stroke="#858585" stroke-width="0.9"/>
<line x1="677.7" y1="153.03" x2="675.9" y2="153.03" stroke="#858585" stroke-width="0.9"/>
<line x1="501" y1="148.68" x2="502.8" y2="148.68" stroke="#858585" stroke-width="0.9"/>
<line x1="677.7" y1="148.68" x2="675.9" y2="148.68" stroke="#858585" stroke-width="0.9"/>
<line x1="501" y1="145.31" x2="502.8" y2="145.31" stroke="#858585" stroke-width="0.9"/>
<line x1="677.7" y1="145.31" x2="675.9" y2="145.31" stroke="#858585" stroke-width="0.9"/>
<line x1="501" y1="142.56" x2="502.8" y2="142.56" stroke="#858585" stroke-width="0.9"/>
<line x1="677.7" y1="142.56" x2="675.9" y2="142.56" stroke="#858585" stroke-width="0.9"/>
<line x1="501" y1="140.23" x2="502.8" y2="140.23" stroke="#858585" stroke-width="0.9"/>
<line x1="677.7" y1="140.23" x2="675.9" y2="140.23" stroke="#858585" stroke-width="0.9"/>
<line x1="501" y1="138.21" x2="502.8" y2="138.21" stroke="#858585" stroke-width="0.9"/>
<line x1="677.7" y1="138.21" x2="675.9" y2="138.21" stroke="#858585" stroke-width="0.9"/>
<line x1="501" y1="136.43" x2="502.8" y2="136.43" stroke="#858585" stroke-width="0.9"/>
<line x1="677.7" y1="136.43" x2="675.9" y2="136.43" stroke="#858585" stroke-width="0.9"/>
<line x1="501" y1="134.84" x2="504" y2="134.84" stroke="#858585" stroke-width="0.9"/>
<line x1="677.7" y1="134.84" x2="674.7" y2="134.84" stroke="#858585" stroke-width="0.9"/>
<line x1="501" y1="124.37" x2="502.8" y2="124.37" stroke="#858585" stroke-width="0.9"/>
<line x1="677.7" y1="124.37" x2="675.9" y2="124.37" stroke="#858585" stroke-width="0.9"/>
<line x1="501" y1="118.25" x2="502.8" y2="118.25" stroke="#858585" stroke-width="0.9"/>
<line x1="677.7" y1="118.25" x2="675.9" y2="118.25" stroke="#858585" stroke-width="0.9"/>
<line x1="501" y1="113.9" x2="502.8" y2="113.9" stroke="#858585" stroke-width="0.9"/>
<line x1="677.7" y1="113.9" x2="675.9" y2="113.9" stroke="#858585" stroke-width="0.9"/>
<line x1="501" y1="110.53" x2="502.8" y2="110.53" stroke="#858585" stroke-width="0.9"/>
<line x1="677.7" y1="110.53" x2="675.9" y2="110.53" stroke="#858585" stroke-width="0.9"/>
<line x1="501" y1="107.78" x2="502.8" y2="107.78" stroke="#858585" stroke-width="0.9"/>
<line x1="677.7" y1="107.78" x2="675.9" y2="107.78" stroke="#858585" stroke-width="0.9"/>
<line x1="501" y1="105.45" x2="502.8" y2="105.45" stroke="#858585" stroke-width="0.9"/>
<line x1="677.7" y1="105.45" x2="675.9" y2="105.45" stroke="#858585" stroke-width="0.9"/>
<line x1="501" y1="103.43" x2="502.8" y2="103.43" stroke="#858585" stroke-width="0.9"/>
<line x1="677.7" y1="103.43" x2="675.9" y2="103.43" stroke="#858585" stroke-width="0.9"/>
<line x1="501" y1="101.65" x2="502.8" y2="101.65" stroke="#858585" stroke-width="0.9"/>
<line x1="677.7" y1="101.65" x2="675.9" y2="101.65" stroke="#858585" stroke-width="0.9"/>
<line x1="501" y1="100.06" x2="504" y2="100.06" stroke="#858585" stroke-width="0.9"/>
<line x1="677.7" y1="100.06" x2="674.7" y2="100.06" stroke="#858585" stroke-width="0.9"/>
<line x1="501" y1="89.59" x2="502.8" y2="89.59" stroke="#858585" stroke-width="0.9"/>
<line x1="677.7" y1="89.59" x2="675.9" y2="89.59" stroke="#858585" stroke-width="0.9"/>
<line x1="501" y1="83.47" x2="502.8" y2="83.47" stroke="#858585" stroke-width="0.9"/>
<line x1="677.7" y1="83.47" x2="675.9" y2="83.47" stroke="#858585" stroke-width="0.9"/>
<line x1="501" y1="79.12" x2="502.8" y2="79.12" stroke="#858585" stroke-width="0.9"/>
<line x1="677.7" y1="79.12" x2="675.9" y2="79.12" stroke="#858585" stroke-width="0.9"/>
<line x1="501" y1="75.75" x2="502.8" y2="75.75" stroke="#858585" stroke-width="0.9"/>
<line x1="677.7" y1="75.75" x2="675.9" y2="75.75" stroke="#858585" stroke-width="0.9"/>
<line x1="501" y1="73" x2="502.8" y2="73" stroke="#858585" stroke-width="0.9"/>
<line x1="677.7" y1="73" x2="675.9" y2="73" stroke="#858585" stroke-width="0.9"/>
<line x1="501" y1="70.67" x2="502.8" y2="70.67" stroke="#858585" stroke-width="0.9"/>
<line x1="677.7" y1="70.67" x2="675.9" y2="70.67" stroke="#858585" stroke-width="0.9"/>
<line x1="501" y1="68.65" x2="502.8" y2="68.65" stroke="#858585" stroke-width="0.9"/>
<line x1="677.7" y1="68.65" x2="675.9" y2="68.65" stroke="#858585" stroke-width="0.9"/>
<line x1="501" y1="66.87" x2="502.8" y2="66.87" stroke="#858585" stroke-width="0.9"/>
<line x1="677.7" y1="66.87" x2="675.9" y2="66.87" stroke="#858585" stroke-width="0.9"/>
<line x1="501" y1="65.28" x2="504" y2="65.28" stroke="#858585" stroke-width="0.9"/>
<line x1="677.7" y1="65.28" x2="674.7" y2="65.28" stroke="#858585" stroke-width="0.9"/>
<line x1="501" y1="54.81" x2="502.8" y2="54.81" stroke="#858585" stroke-width="0.9"/>
<line x1="677.7" y1="54.81" x2="675.9" y2="54.81" stroke="#858585" stroke-width="0.9"/>
<line x1="501" y1="48.69" x2="502.8" y2="48.69" stroke="#858585" stroke-width="0.9"/>
<line x1="677.7" y1="48.69" x2="675.9" y2="48.69" stroke="#858585" stroke-width="0.9"/>
<line x1="501" y1="44.34" x2="502.8" y2="44.34" stroke="#858585" stroke-width="0.9"/>
<line x1="677.7" y1="44.34" x2="675.9" y2="44.34" stroke="#858585" stroke-width="0.9"/>
<line x1="501" y1="40.97" x2="502.8" y2="40.97" stroke="#858585" stroke-width="0.9"/>
<line x1="677.7" y1="40.97" x2="675.9" y2="40.97" stroke="#858585" stroke-width="0.9"/>
<line x1="501" y1="38.22" x2="502.8" y2="38.22" stroke="#858585" stroke-width="0.9"/>
<line x1="677.7" y1="38.22" x2="675.9" y2="38.22" stroke="#858585" stroke-width="0.9"/>
<line x1="501" y1="35.89" x2="502.8" y2="35.89" stroke="#858585" stroke-width="0.9"/>
<line x1="677.7" y1="35.89" x2="675.9" y2="35.89" stroke="#858585" stroke-width="0.9"/>
<line x1="501" y1="33.87" x2="502.8" y2="33.87" stroke="#858585" stroke-width="0.9"/>
<line x1="677.7" y1="33.87" x2="675.9" y2="33.87" stroke="#858585" stroke-width="0.9"/>
<line x1="501" y1="32.09" x2="502.8" y2="32.09" stroke="#858585" stroke-width="0.9"/>
<line x1="677.7" y1="32.09" x2="675.9" y2="32.09" stroke="#858585" stroke-width="0.9"/>
<rect x="501" y="30.5" width="176.7" height="173.9" fill="none" stroke="#858585" stroke-width="1"/>
<line x1="501" y1="189.51" x2="677.7" y2="189.51" stroke="#c8c8c8" stroke-width="1.5" stroke-dasharray="6.2 6.0"/>
<path d="M501,93.37 L502.47,92.44 L503.94,91.52 L505.42,90.6 L506.89,89.68 L508.36,88.76 L509.83,87.84 L511.31,86.92 L512.78,86 L514.25,85.08 L515.73,84.16 L517.2,83.25 L518.67,82.33 L520.14,81.42 L521.62,80.5 L523.09,79.59 L524.56,78.68 L526.03,77.77 L527.5,76.86 L528.98,75.95 L530.45,75.04 L531.92,74.14 L533.39,73.24 L534.87,72.33 L536.34,71.43 L537.81,70.54 L539.28,69.64 L540.76,68.75 L542.23,67.86 L543.7,66.97 L545.17,66.08 L546.65,65.2 L548.12,64.32 L549.59,63.44 L551.07,62.57 L552.54,61.7 L554.01,60.83 L555.48,59.97 L556.96,59.11 L558.43,58.25 L559.9,57.4 L561.37,56.56 L562.85,55.72 L564.32,54.89 L565.79,54.06 L567.26,53.24 L568.74,52.42 L570.21,51.61 L571.68,50.81 L573.15,50.02 L574.62,49.23 L576.1,48.46 L577.57,47.69 L579.04,46.93 L580.51,46.19 L581.99,45.45 L583.46,44.73 L584.93,44.01 L586.4,43.31 L587.88,42.62 L589.35,41.95 L590.82,41.29 L592.3,40.64 L593.77,40.02 L595.24,39.4 L596.71,38.81 L598.19,38.23 L599.66,37.67 L601.13,37.13 L602.6,36.61 L604.08,36.11 L605.55,35.63 L607.02,35.17 L608.49,34.74 L609.97,34.32 L611.44,33.93 L612.91,33.57 L614.38,33.22 L615.86,32.9 L617.33,32.61 L618.8,32.34 L620.27,32.09 L621.75,31.86 L623.22,31.66 L624.69,31.47 L626.16,31.31 L627.63,31.17 L629.11,31.1 L630.58,31.1 L632.05,31.1 L633.53,31.1 L635,31.1 L636.47,31.1 L637.94,31.1 L639.42,31.1 L640.89,31.1 L642.36,31.1 L643.83,31.1 L645.31,31.1 L646.78,31.1 L648.25,31.1 L649.72,31.1 L651.2,31.1 L652.67,31.1 L654.14,31.1 L655.61,31.1 L657.09,31.1 L658.56,31.1 L660.03,31.1 L661.5,31.1 L662.98,31.1 L664.45,31.1 L665.92,31.1 L667.39,31.1 L668.87,31.1 L670.34,31.1 L671.81,31.1 L673.28,31.1 L674.76,31.1 L676.23,31.1 L677.7,31.1" fill="none" stroke="#87008c" stroke-width="2"/>
<line x1="501" y1="111.76" x2="677.7" y2="60.63" stroke="#069664" stroke-width="1.9" stroke-dasharray="6.6 5.1"/>
<line x1="529.1" y1="103.66" x2="529.1" y2="111.37" stroke="#069664" stroke-width="1"/>
<line x1="526.6" y1="103.66" x2="531.6" y2="103.66" stroke="#069664" stroke-width="1"/>
<line x1="526.6" y1="111.37" x2="531.6" y2="111.37" stroke="#069664" stroke-width="1"/>
<line x1="542.17" y1="93.54" x2="542.17" y2="102.25" stroke="#069664" stroke-width="1"/>
<line x1="539.67" y1="93.54" x2="544.67" y2="93.54" stroke="#069664" stroke-width="1"/>
<line x1="539.67" y1="102.25" x2="544.67" y2="102.25" stroke="#069664" stroke-width="1"/>
<line x1="557.2" y1="87.09" x2="557.2" y2="99.47" stroke="#069664" stroke-width="1"/>
<line x1="554.7" y1="87.09" x2="559.7" y2="87.09" stroke="#069664" stroke-width="1"/>
<line x1="554.7" y1="99.47" x2="559.7" y2="99.47" stroke="#069664" stroke-width="1"/>
<line x1="571.92" y1="87.81" x2="571.92" y2="89.97" stroke="#069664" stroke-width="1"/>
<line x1="569.42" y1="87.81" x2="574.42" y2="87.81" stroke="#069664" stroke-width="1"/>
<line x1="569.42" y1="89.97" x2="574.42" y2="89.97" stroke="#069664" stroke-width="1"/>
<line x1="588" y1="85.06" x2="588" y2="86.52" stroke="#069664" stroke-width="1"/>
<line x1="585.5" y1="85.06" x2="590.5" y2="85.06" stroke="#069664" stroke-width="1"/>
<line x1="585.5" y1="86.52" x2="590.5" y2="86.52" stroke="#069664" stroke-width="1"/>
<line x1="613.09" y1="79.35" x2="613.09" y2="85.74" stroke="#069664" stroke-width="1"/>
<line x1="610.59" y1="79.35" x2="615.59" y2="79.35" stroke="#069664" stroke-width="1"/>
<line x1="610.59" y1="85.74" x2="615.59" y2="85.74" stroke="#069664" stroke-width="1"/>
<circle cx="529.1" cy="107.65" r="2.6" fill="#069664"/>
<circle cx="542.17" cy="97.36" r="2.6" fill="#069664"/>
<circle cx="557.2" cy="92.17" r="2.6" fill="#069664"/>
<circle cx="571.92" cy="88.96" r="2.6" fill="#069664"/>
<circle cx="588" cy="85.77" r="2.6" fill="#069664"/>
<circle cx="601.07" cy="83.86" r="2.6" fill="#069664"/>
<circle cx="613.09" cy="82.29" r="2.6" fill="#069664"/>
<text x="661.8" y="49.2" font-size="18.5" fill="#000" font-weight="bold">F</text>
<line x1="518.11" y1="399" x2="518.11" y2="397.2" stroke="#858585" stroke-width="0.9"/>
<line x1="518.11" y1="224.5" x2="518.11" y2="226.3" stroke="#858585" stroke-width="0.9"/>
<line x1="528.53" y1="399" x2="528.53" y2="397.2" stroke="#858585" stroke-width="0.9"/>
<line x1="528.53" y1="224.5" x2="528.53" y2="226.3" stroke="#858585" stroke-width="0.9"/>
<line x1="535.92" y1="399" x2="535.92" y2="397.2" stroke="#858585" stroke-width="0.9"/>
<line x1="535.92" y1="224.5" x2="535.92" y2="226.3" stroke="#858585" stroke-width="0.9"/>
<line x1="541.66" y1="399" x2="541.66" y2="397.2" stroke="#858585" stroke-width="0.9"/>
<line x1="541.66" y1="224.5" x2="541.66" y2="226.3" stroke="#858585" stroke-width="0.9"/>
<line x1="546.34" y1="399" x2="546.34" y2="397.2" stroke="#858585" stroke-width="0.9"/>
<line x1="546.34" y1="224.5" x2="546.34" y2="226.3" stroke="#858585" stroke-width="0.9"/>
<line x1="550.3" y1="399" x2="550.3" y2="397.2" stroke="#858585" stroke-width="0.9"/>
<line x1="550.3" y1="224.5" x2="550.3" y2="226.3" stroke="#858585" stroke-width="0.9"/>
<line x1="553.73" y1="399" x2="553.73" y2="397.2" stroke="#858585" stroke-width="0.9"/>
<line x1="553.73" y1="224.5" x2="553.73" y2="226.3" stroke="#858585" stroke-width="0.9"/>
<line x1="556.76" y1="399" x2="556.76" y2="397.2" stroke="#858585" stroke-width="0.9"/>
<line x1="556.76" y1="224.5" x2="556.76" y2="226.3" stroke="#858585" stroke-width="0.9"/>
<line x1="559.47" y1="399" x2="559.47" y2="396" stroke="#858585" stroke-width="0.9"/>
<line x1="559.47" y1="224.5" x2="559.47" y2="227.5" stroke="#858585" stroke-width="0.9"/>
<line x1="577.28" y1="399" x2="577.28" y2="397.2" stroke="#858585" stroke-width="0.9"/>
<line x1="577.28" y1="224.5" x2="577.28" y2="226.3" stroke="#858585" stroke-width="0.9"/>
<line x1="587.7" y1="399" x2="587.7" y2="397.2" stroke="#858585" stroke-width="0.9"/>
<line x1="587.7" y1="224.5" x2="587.7" y2="226.3" stroke="#858585" stroke-width="0.9"/>
<line x1="595.09" y1="399" x2="595.09" y2="397.2" stroke="#858585" stroke-width="0.9"/>
<line x1="595.09" y1="224.5" x2="595.09" y2="226.3" stroke="#858585" stroke-width="0.9"/>
<line x1="600.82" y1="399" x2="600.82" y2="397.2" stroke="#858585" stroke-width="0.9"/>
<line x1="600.82" y1="224.5" x2="600.82" y2="226.3" stroke="#858585" stroke-width="0.9"/>
<line x1="605.51" y1="399" x2="605.51" y2="397.2" stroke="#858585" stroke-width="0.9"/>
<line x1="605.51" y1="224.5" x2="605.51" y2="226.3" stroke="#858585" stroke-width="0.9"/>
<line x1="609.47" y1="399" x2="609.47" y2="397.2" stroke="#858585" stroke-width="0.9"/>
<line x1="609.47" y1="224.5" x2="609.47" y2="226.3" stroke="#858585" stroke-width="0.9"/>
<line x1="612.9" y1="399" x2="612.9" y2="397.2" stroke="#858585" stroke-width="0.9"/>
<line x1="612.9" y1="224.5" x2="612.9" y2="226.3" stroke="#858585" stroke-width="0.9"/>
<line x1="615.93" y1="399" x2="615.93" y2="397.2" stroke="#858585" stroke-width="0.9"/>
<line x1="615.93" y1="224.5" x2="615.93" y2="226.3" stroke="#858585" stroke-width="0.9"/>
<line x1="618.63" y1="399" x2="618.63" y2="396" stroke="#858585" stroke-width="0.9"/>
<line x1="618.63" y1="224.5" x2="618.63" y2="227.5" stroke="#858585" stroke-width="0.9"/>
<line x1="636.44" y1="399" x2="636.44" y2="397.2" stroke="#858585" stroke-width="0.9"/>
<line x1="636.44" y1="224.5" x2="636.44" y2="226.3" stroke="#858585" stroke-width="0.9"/>
<line x1="646.86" y1="399" x2="646.86" y2="397.2" stroke="#858585" stroke-width="0.9"/>
<line x1="646.86" y1="224.5" x2="646.86" y2="226.3" stroke="#858585" stroke-width="0.9"/>
<line x1="654.26" y1="399" x2="654.26" y2="397.2" stroke="#858585" stroke-width="0.9"/>
<line x1="654.26" y1="224.5" x2="654.26" y2="226.3" stroke="#858585" stroke-width="0.9"/>
<line x1="659.99" y1="399" x2="659.99" y2="397.2" stroke="#858585" stroke-width="0.9"/>
<line x1="659.99" y1="224.5" x2="659.99" y2="226.3" stroke="#858585" stroke-width="0.9"/>
<line x1="664.67" y1="399" x2="664.67" y2="397.2" stroke="#858585" stroke-width="0.9"/>
<line x1="664.67" y1="224.5" x2="664.67" y2="226.3" stroke="#858585" stroke-width="0.9"/>
<line x1="668.63" y1="399" x2="668.63" y2="397.2" stroke="#858585" stroke-width="0.9"/>
<line x1="668.63" y1="224.5" x2="668.63" y2="226.3" stroke="#858585" stroke-width="0.9"/>
<line x1="672.07" y1="399" x2="672.07" y2="397.2" stroke="#858585" stroke-width="0.9"/>
<line x1="672.07" y1="224.5" x2="672.07" y2="226.3" stroke="#858585" stroke-width="0.9"/>
<line x1="675.09" y1="399" x2="675.09" y2="397.2" stroke="#858585" stroke-width="0.9"/>
<line x1="675.09" y1="224.5" x2="675.09" y2="226.3" stroke="#858585" stroke-width="0.9"/>
<line x1="500.3" y1="385.87" x2="502.1" y2="385.87" stroke="#858585" stroke-width="0.9"/>
<line x1="677.8" y1="385.87" x2="676" y2="385.87" stroke="#858585" stroke-width="0.9"/>
<line x1="500.3" y1="378.19" x2="502.1" y2="378.19" stroke="#858585" stroke-width="0.9"/>
<line x1="677.8" y1="378.19" x2="676" y2="378.19" stroke="#858585" stroke-width="0.9"/>
<line x1="500.3" y1="372.74" x2="502.1" y2="372.74" stroke="#858585" stroke-width="0.9"/>
<line x1="677.8" y1="372.74" x2="676" y2="372.74" stroke="#858585" stroke-width="0.9"/>
<line x1="500.3" y1="368.51" x2="502.1" y2="368.51" stroke="#858585" stroke-width="0.9"/>
<line x1="677.8" y1="368.51" x2="676" y2="368.51" stroke="#858585" stroke-width="0.9"/>
<line x1="500.3" y1="365.05" x2="502.1" y2="365.05" stroke="#858585" stroke-width="0.9"/>
<line x1="677.8" y1="365.05" x2="676" y2="365.05" stroke="#858585" stroke-width="0.9"/>
<line x1="500.3" y1="362.13" x2="502.1" y2="362.13" stroke="#858585" stroke-width="0.9"/>
<line x1="677.8" y1="362.13" x2="676" y2="362.13" stroke="#858585" stroke-width="0.9"/>
<line x1="500.3" y1="359.6" x2="502.1" y2="359.6" stroke="#858585" stroke-width="0.9"/>
<line x1="677.8" y1="359.6" x2="676" y2="359.6" stroke="#858585" stroke-width="0.9"/>
<line x1="500.3" y1="357.37" x2="502.1" y2="357.37" stroke="#858585" stroke-width="0.9"/>
<line x1="677.8" y1="357.37" x2="676" y2="357.37" stroke="#858585" stroke-width="0.9"/>
<line x1="500.3" y1="355.38" x2="503.3" y2="355.38" stroke="#858585" stroke-width="0.9"/>
<line x1="677.8" y1="355.38" x2="674.8" y2="355.38" stroke="#858585" stroke-width="0.9"/>
<line x1="500.3" y1="342.24" x2="502.1" y2="342.24" stroke="#858585" stroke-width="0.9"/>
<line x1="677.8" y1="342.24" x2="676" y2="342.24" stroke="#858585" stroke-width="0.9"/>
<line x1="500.3" y1="334.56" x2="502.1" y2="334.56" stroke="#858585" stroke-width="0.9"/>
<line x1="677.8" y1="334.56" x2="676" y2="334.56" stroke="#858585" stroke-width="0.9"/>
<line x1="500.3" y1="329.11" x2="502.1" y2="329.11" stroke="#858585" stroke-width="0.9"/>
<line x1="677.8" y1="329.11" x2="676" y2="329.11" stroke="#858585" stroke-width="0.9"/>
<line x1="500.3" y1="324.88" x2="502.1" y2="324.88" stroke="#858585" stroke-width="0.9"/>
<line x1="677.8" y1="324.88" x2="676" y2="324.88" stroke="#858585" stroke-width="0.9"/>
<line x1="500.3" y1="321.43" x2="502.1" y2="321.43" stroke="#858585" stroke-width="0.9"/>
<line x1="677.8" y1="321.43" x2="676" y2="321.43" stroke="#858585" stroke-width="0.9"/>
<line x1="500.3" y1="318.51" x2="502.1" y2="318.51" stroke="#858585" stroke-width="0.9"/>
<line x1="677.8" y1="318.51" x2="676" y2="318.51" stroke="#858585" stroke-width="0.9"/>
<line x1="500.3" y1="315.98" x2="502.1" y2="315.98" stroke="#858585" stroke-width="0.9"/>
<line x1="677.8" y1="315.98" x2="676" y2="315.98" stroke="#858585" stroke-width="0.9"/>
<line x1="500.3" y1="313.75" x2="502.1" y2="313.75" stroke="#858585" stroke-width="0.9"/>
<line x1="677.8" y1="313.75" x2="676" y2="313.75" stroke="#858585" stroke-width="0.9"/>
<line x1="500.3" y1="311.75" x2="503.3" y2="311.75" stroke="#858585" stroke-width="0.9"/>
<line x1="677.8" y1="311.75" x2="674.8" y2="311.75" stroke="#858585" stroke-width="0.9"/>
<line x1="500.3" y1="298.62" x2="502.1" y2="298.62" stroke="#858585" stroke-width="0.9"/>
<line x1="677.8" y1="298.62" x2="676" y2="298.62" stroke="#858585" stroke-width="0.9"/>
<line x1="500.3" y1="290.94" x2="502.1" y2="290.94" stroke="#858585" stroke-width="0.9"/>
<line x1="677.8" y1="290.94" x2="676" y2="290.94" stroke="#858585" stroke-width="0.9"/>
<line x1="500.3" y1="285.49" x2="502.1" y2="285.49" stroke="#858585" stroke-width="0.9"/>
<line x1="677.8" y1="285.49" x2="676" y2="285.49" stroke="#858585" stroke-width="0.9"/>
<line x1="500.3" y1="281.26" x2="502.1" y2="281.26" stroke="#858585" stroke-width="0.9"/>
<line x1="677.8" y1="281.26" x2="676" y2="281.26" stroke="#858585" stroke-width="0.9"/>
<line x1="500.3" y1="277.8" x2="502.1" y2="277.8" stroke="#858585" stroke-width="0.9"/>
<line x1="677.8" y1="277.8" x2="676" y2="277.8" stroke="#858585" stroke-width="0.9"/>
<line x1="500.3" y1="274.88" x2="502.1" y2="274.88" stroke="#858585" stroke-width="0.9"/>
<line x1="677.8" y1="274.88" x2="676" y2="274.88" stroke="#858585" stroke-width="0.9"/>
<line x1="500.3" y1="272.35" x2="502.1" y2="272.35" stroke="#858585" stroke-width="0.9"/>
<line x1="677.8" y1="272.35" x2="676" y2="272.35" stroke="#858585" stroke-width="0.9"/>
<line x1="500.3" y1="270.12" x2="502.1" y2="270.12" stroke="#858585" stroke-width="0.9"/>
<line x1="677.8" y1="270.12" x2="676" y2="270.12" stroke="#858585" stroke-width="0.9"/>
<line x1="500.3" y1="268.12" x2="503.3" y2="268.12" stroke="#858585" stroke-width="0.9"/>
<line x1="677.8" y1="268.12" x2="674.8" y2="268.12" stroke="#858585" stroke-width="0.9"/>
<line x1="500.3" y1="254.99" x2="502.1" y2="254.99" stroke="#858585" stroke-width="0.9"/>
<line x1="677.8" y1="254.99" x2="676" y2="254.99" stroke="#858585" stroke-width="0.9"/>
<line x1="500.3" y1="247.31" x2="502.1" y2="247.31" stroke="#858585" stroke-width="0.9"/>
<line x1="677.8" y1="247.31" x2="676" y2="247.31" stroke="#858585" stroke-width="0.9"/>
<line x1="500.3" y1="241.86" x2="502.1" y2="241.86" stroke="#858585" stroke-width="0.9"/>
<line x1="677.8" y1="241.86" x2="676" y2="241.86" stroke="#858585" stroke-width="0.9"/>
<line x1="500.3" y1="237.63" x2="502.1" y2="237.63" stroke="#858585" stroke-width="0.9"/>
<line x1="677.8" y1="237.63" x2="676" y2="237.63" stroke="#858585" stroke-width="0.9"/>
<line x1="500.3" y1="234.18" x2="502.1" y2="234.18" stroke="#858585" stroke-width="0.9"/>
<line x1="677.8" y1="234.18" x2="676" y2="234.18" stroke="#858585" stroke-width="0.9"/>
<line x1="500.3" y1="231.26" x2="502.1" y2="231.26" stroke="#858585" stroke-width="0.9"/>
<line x1="677.8" y1="231.26" x2="676" y2="231.26" stroke="#858585" stroke-width="0.9"/>
<line x1="500.3" y1="228.73" x2="502.1" y2="228.73" stroke="#858585" stroke-width="0.9"/>
<line x1="677.8" y1="228.73" x2="676" y2="228.73" stroke="#858585" stroke-width="0.9"/>
<line x1="500.3" y1="226.5" x2="502.1" y2="226.5" stroke="#858585" stroke-width="0.9"/>
<line x1="677.8" y1="226.5" x2="676" y2="226.5" stroke="#858585" stroke-width="0.9"/>
<rect x="500.3" y="224.5" width="177.5" height="174.5" fill="none" stroke="#858585" stroke-width="1"/>
<line x1="500.3" y1="368.51" x2="677.8" y2="368.51" stroke="#c8c8c8" stroke-width="1.5" stroke-dasharray="6.2 6.0"/>
<path d="M500.3,225.1 L501.78,225.1 L503.26,225.1 L504.74,225.1 L506.22,225.1 L507.7,225.1 L509.18,225.1 L510.65,225.1 L512.13,225.1 L513.61,225.1 L515.09,225.1 L516.57,225.1 L518.05,225.1 L519.53,225.1 L521.01,225.1 L522.49,225.1 L523.97,225.1 L525.45,225.1 L526.92,225.1 L528.4,225.1 L529.88,225.1 L531.36,225.1 L532.84,225.1 L534.32,225.1 L535.8,225.1 L537.28,225.1 L538.76,225.1 L540.24,225.1 L541.72,225.1 L543.2,225.1 L544.67,225.1 L546.15,225.1 L547.63,225.1 L549.11,225.1 L550.59,225.1 L552.07,225.1 L553.55,225.1 L555.03,225.1 L556.51,225.1 L557.99,225.1 L559.47,225.1 L560.95,225.1 L562.42,225.1 L563.9,225.1 L565.38,225.1 L566.86,225.1 L568.34,225.1 L569.82,225.1 L571.3,225.1 L572.78,225.1 L574.26,225.1 L575.74,225.1 L577.22,225.1 L578.7,225.1 L580.17,225.1 L581.65,225.1 L583.13,225.1 L584.61,225.1 L586.09,225.1 L587.57,225.1 L589.05,225.1 L590.53,225.1 L592.01,225.1 L593.49,225.1 L594.97,225.1 L596.45,225.1 L597.92,225.1 L599.4,225.1 L600.88,225.1 L602.36,225.1 L603.84,225.1 L605.32,225.1 L606.8,225.1 L608.28,225.1 L609.76,225.1 L611.24,225.1 L612.72,225.1 L614.2,225.1 L615.67,225.1 L617.15,225.1 L618.63,225.1 L620.11,225.1 L621.59,225.1 L623.07,225.1 L624.55,225.1 L626.03,225.1 L627.51,225.1 L628.99,225.1 L630.47,225.1 L631.95,225.1 L633.42,225.1 L634.9,225.1 L636.38,225.1 L637.86,225.1 L639.34,225.1 L640.82,225.1 L642.3,225.1 L643.78,225.1 L645.26,225.1 L646.74,225.1 L648.22,225.1 L649.7,225.1 L651.17,225.1 L652.65,225.1 L654.13,225.1 L655.61,225.1 L657.09,225.1 L658.57,225.1 L660.05,225.1 L661.53,225.1 L663.01,225.1 L664.49,225.1 L665.97,225.1 L667.45,225.1 L668.92,225.1 L670.4,225.1 L671.88,225.1 L673.36,225.1 L674.84,225.1 L676.32,225.1 L677.8,225.1" fill="none" stroke="#87008c" stroke-width="2"/>
<line x1="500.3" y1="321.11" x2="677.8" y2="256.33" stroke="#069664" stroke-width="1.9" stroke-dasharray="6.6 5.1"/>
<line x1="541.66" y1="305.73" x2="541.66" y2="310.65" stroke="#069664" stroke-width="1"/>
<line x1="539.16" y1="305.73" x2="544.16" y2="305.73" stroke="#069664" stroke-width="1"/>
<line x1="539.16" y1="310.65" x2="544.16" y2="310.65" stroke="#069664" stroke-width="1"/>
<line x1="556.76" y1="297.69" x2="556.76" y2="305.51" stroke="#069664" stroke-width="1"/>
<line x1="554.26" y1="297.69" x2="559.26" y2="297.69" stroke="#069664" stroke-width="1"/>
<line x1="554.26" y1="305.51" x2="559.26" y2="305.51" stroke="#069664" stroke-width="1"/>
<line x1="571.54" y1="289.68" x2="571.54" y2="300.32" stroke="#069664" stroke-width="1"/>
<line x1="569.04" y1="289.68" x2="574.04" y2="289.68" stroke="#069664" stroke-width="1"/>
<line x1="569.04" y1="300.32" x2="574.04" y2="300.32" stroke="#069664" stroke-width="1"/>
<line x1="587.7" y1="285.66" x2="587.7" y2="290.38" stroke="#069664" stroke-width="1"/>
<line x1="585.2" y1="285.66" x2="590.2" y2="285.66" stroke="#069664" stroke-width="1"/>
<line x1="585.2" y1="290.38" x2="590.2" y2="290.38" stroke="#069664" stroke-width="1"/>
<line x1="600.82" y1="278.84" x2="600.82" y2="284.25" stroke="#069664" stroke-width="1"/>
<line x1="598.32" y1="278.84" x2="603.32" y2="278.84" stroke="#069664" stroke-width="1"/>
<line x1="598.32" y1="284.25" x2="603.32" y2="284.25" stroke="#069664" stroke-width="1"/>
<circle cx="528.53" cy="316.46" r="1.9" fill="#069664"/>
<circle cx="541.66" cy="307.67" r="1.9" fill="#069664"/>
<circle cx="556.76" cy="301.12" r="1.9" fill="#069664"/>
<circle cx="571.54" cy="294.8" r="1.9" fill="#069664"/>
<circle cx="587.7" cy="287.89" r="1.9" fill="#069664"/>
<circle cx="600.82" cy="281.37" r="1.9" fill="#069664"/>
<circle cx="612.9" cy="278.15" r="1.9" fill="#069664"/>
<text x="498.5" y="415.2" font-size="14.4" fill="#262626" textLength="16.4" lengthAdjust="spacingAndGlyphs" font-family='"Liberation Serif", serif'>10</text>
<text x="515.3" y="409.6" font-size="10" fill="#262626" font-family='"Liberation Serif", serif'>0</text>
<text x="550.87" y="415.2" font-size="14.4" fill="#262626" textLength="16.4" lengthAdjust="spacingAndGlyphs" font-family='"Liberation Serif", serif'>10</text>
<text x="567.67" y="409.6" font-size="10" fill="#262626" font-family='"Liberation Serif", serif'>1</text>
<text x="610.13" y="415.2" font-size="14.4" fill="#262626" textLength="16.4" lengthAdjust="spacingAndGlyphs" font-family='"Liberation Serif", serif'>10</text>
<text x="626.93" y="409.6" font-size="10" fill="#262626" font-family='"Liberation Serif", serif'>2</text>
<text x="661.1" y="415.2" font-size="14.4" fill="#262626" textLength="16.4" lengthAdjust="spacingAndGlyphs" font-family='"Liberation Serif", serif'>10</text>
<text x="677.9" y="409.6" font-size="10" fill="#262626" font-family='"Liberation Serif", serif'>3</text>
<text x="660.4" y="240.8" font-size="18.5" fill="#000" font-weight="bold">G</text>
<g transform="translate(278,117.5) rotate(-90)">
<text x="-72" y="-0.7" font-size="16.5" font-weight="bold" fill="#000">f</text>
<text x="-65.6" y="2.4" font-size="11.6" font-weight="bold" fill="#000" textLength="53.4" lengthAdjust="spacingAndGlyphs">desorbed</text>
<text x="-10.2" y="0" font-size="14.5" font-weight="bold" fill="#000" textLength="83" lengthAdjust="spacingAndGlyphs">cumulative</text>
</g>
<g transform="translate(278,311.5) rotate(-90)">
<text x="-72" y="-0.7" font-size="16.5" font-weight="bold" fill="#000">f</text>
<text x="-65.6" y="2.4" font-size="11.6" font-weight="bold" fill="#000" textLength="53.4" lengthAdjust="spacingAndGlyphs">desorbed</text>
<text x="-10.2" y="0" font-size="14.5" font-weight="bold" fill="#000" textLength="83" lengthAdjust="spacingAndGlyphs">cumulative</text>
</g>
<text x="368.5" y="427.8" font-size="14" fill="#000" font-weight="bold" textLength="64.4" lengthAdjust="spacingAndGlyphs">time in d</text>
<text x="556.8" y="427.8" font-size="14" fill="#000" font-weight="bold" textLength="64.7" lengthAdjust="spacingAndGlyphs">time in d</text>
<rect x="311.6" y="437.8" width="177.5" height="32" fill="#fff" stroke="#616161" stroke-width="1"/>
<line x1="319.2" y1="441" x2="319.2" y2="453" stroke="#16298c" stroke-width="1.1"/>
<line x1="315.2" y1="441" x2="323.2" y2="441" stroke="#16298c" stroke-width="1.1"/>
<line x1="315.2" y1="453" x2="323.2" y2="453" stroke="#16298c" stroke-width="1.1"/>
<circle cx="319.2" cy="447.1" r="3.1" fill="#16298c"/>
<text x="331.2" y="449.1" font-size="11.5" fill="#000" textLength="22" lengthAdjust="spacingAndGlyphs">PVC</text>
<text x="353.4" y="451.7" font-size="8.6" fill="#000" textLength="14.2" lengthAdjust="spacingAndGlyphs">24d</text>
<line x1="315.1" y1="461.2" x2="322.9" y2="461.2" stroke="#8a8a8a" stroke-width="1.6" stroke-dasharray="3.1 1.9"/>
<text x="331.2" y="465.6" font-size="11.5" fill="#000" textLength="24.4" lengthAdjust="spacingAndGlyphs">LOQ</text>
<line x1="389.4" y1="444.6" x2="398.8" y2="444.6" stroke="#16298c" stroke-width="2" stroke-dasharray="3.5 2.3"/>
<text x="405.6" y="449.1" font-size="11.5" fill="#000" textLength="20.2" lengthAdjust="spacingAndGlyphs">IPD</text>
<text x="426.6" y="451.8" font-size="8.6" fill="#000" textLength="31.6" lengthAdjust="spacingAndGlyphs">PVC 24d</text>
<line x1="389.4" y1="462" x2="397.8" y2="462" stroke="#c47cc4" stroke-width="2"/>
<text x="406.2" y="465.6" font-size="11.5" fill="#000" textLength="31" lengthAdjust="spacingAndGlyphs">ABLD</text>
<rect x="500.2" y="437.8" width="177.5" height="32" fill="#fff" stroke="#616161" stroke-width="1"/>
<line x1="507.8" y1="441" x2="507.8" y2="453" stroke="#069664" stroke-width="1.1"/>
<line x1="503.8" y1="441" x2="511.8" y2="441" stroke="#069664" stroke-width="1.1"/>
<line x1="503.8" y1="453" x2="511.8" y2="453" stroke="#069664" stroke-width="1.1"/>
<circle cx="507.8" cy="447.1" r="3.1" fill="#069664"/>
<text x="519.8" y="449.1" font-size="11.5" fill="#000" textLength="22" lengthAdjust="spacingAndGlyphs">PVC</text>
<text x="542" y="451.7" font-size="8.6" fill="#000" textLength="14.2" lengthAdjust="spacingAndGlyphs">48d</text>
<line x1="503.7" y1="461.2" x2="511.5" y2="461.2" stroke="#8a8a8a" stroke-width="1.6" stroke-dasharray="3.1 1.9"/>
<text x="519.8" y="465.6" font-size="11.5" fill="#000" textLength="24.4" lengthAdjust="spacingAndGlyphs">LOQ</text>
<line x1="578" y1="444.6" x2="587.4" y2="444.6" stroke="#069664" stroke-width="2" stroke-dasharray="3.5 2.3"/>
<text x="594.2" y="449.1" font-size="11.5" fill="#000" textLength="20.2" lengthAdjust="spacingAndGlyphs">IPD</text>
<text x="615.2" y="451.8" font-size="8.6" fill="#000" textLength="31.6" lengthAdjust="spacingAndGlyphs">PVC 48d</text>
<line x1="578" y1="462" x2="586.4" y2="462" stroke="#c47cc4" stroke-width="2"/>
<text x="594.8" y="465.6" font-size="11.5" fill="#000" textLength="31" lengthAdjust="spacingAndGlyphs">ABLD</text>
</svg>
</body></html>
